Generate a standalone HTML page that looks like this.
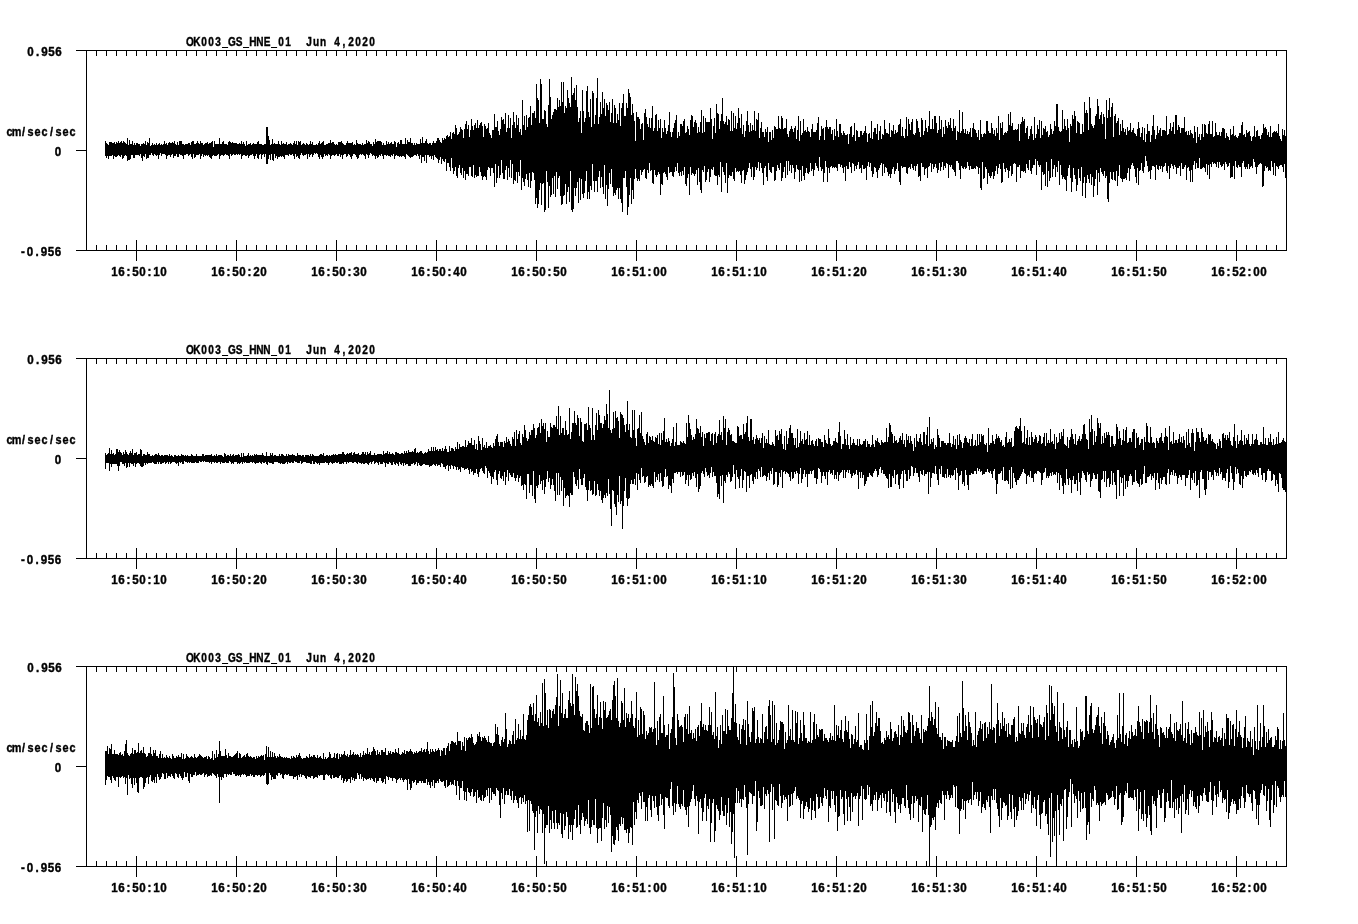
<!DOCTYPE html>
<html lang="en"><head><meta charset="utf-8"><title>OK003 GS HN seismogram</title>
<style>
html,body{margin:0;padding:0;background:#fff;}
body{width:1358px;height:924px;overflow:hidden;}
svg{display:block;}
text{font-family:"Liberation Mono","DejaVu Sans Mono",monospace;font-weight:bold;font-size:13.6px;fill:#000;stroke:#000;stroke-width:0.35px;}
text.s{font-family:"Liberation Sans","DejaVu Sans",sans-serif;font-size:12.6px;text-anchor:middle;stroke-width:0.4px;white-space:pre;}
</style></head><body>
<svg width="1358" height="924" viewBox="0 0 1358 924">
<rect width="1358" height="924" fill="#fff"/>
<g id="plot1">
<path shape-rendering="crispEdges" fill="#000" d="M76 50h1211v1h-1211zM76 250h1211v1h-1211zM86 50h1v201h-1zM1286 50h1v201h-1zM76 150h10v1h-10zM96 50h1v6h-1zM96 245h1v5h-1zM106 50h1v6h-1zM106 245h1v5h-1zM116 50h1v6h-1zM116 245h1v5h-1zM126 50h1v6h-1zM126 245h1v5h-1zM136 50h1v6h-1zM136 245h1v5h-1zM146 50h1v6h-1zM146 245h1v5h-1zM156 50h1v6h-1zM156 245h1v5h-1zM166 50h1v6h-1zM166 245h1v5h-1zM176 50h1v6h-1zM176 245h1v5h-1zM186 50h1v6h-1zM186 245h1v5h-1zM196 50h1v6h-1zM196 245h1v5h-1zM206 50h1v6h-1zM206 245h1v5h-1zM216 50h1v6h-1zM216 245h1v5h-1zM226 50h1v6h-1zM226 245h1v5h-1zM236 50h1v6h-1zM236 245h1v5h-1zM246 50h1v6h-1zM246 245h1v5h-1zM256 50h1v6h-1zM256 245h1v5h-1zM266 50h1v6h-1zM266 245h1v5h-1zM276 50h1v6h-1zM276 245h1v5h-1zM286 50h1v6h-1zM286 245h1v5h-1zM296 50h1v6h-1zM296 245h1v5h-1zM306 50h1v6h-1zM306 245h1v5h-1zM316 50h1v6h-1zM316 245h1v5h-1zM326 50h1v6h-1zM326 245h1v5h-1zM336 50h1v6h-1zM336 245h1v5h-1zM346 50h1v6h-1zM346 245h1v5h-1zM356 50h1v6h-1zM356 245h1v5h-1zM366 50h1v6h-1zM366 245h1v5h-1zM376 50h1v6h-1zM376 245h1v5h-1zM386 50h1v6h-1zM386 245h1v5h-1zM396 50h1v6h-1zM396 245h1v5h-1zM406 50h1v6h-1zM406 245h1v5h-1zM416 50h1v6h-1zM416 245h1v5h-1zM426 50h1v6h-1zM426 245h1v5h-1zM436 50h1v6h-1zM436 245h1v5h-1zM446 50h1v6h-1zM446 245h1v5h-1zM456 50h1v6h-1zM456 245h1v5h-1zM466 50h1v6h-1zM466 245h1v5h-1zM476 50h1v6h-1zM476 245h1v5h-1zM486 50h1v6h-1zM486 245h1v5h-1zM496 50h1v6h-1zM496 245h1v5h-1zM506 50h1v6h-1zM506 245h1v5h-1zM516 50h1v6h-1zM516 245h1v5h-1zM526 50h1v6h-1zM526 245h1v5h-1zM536 50h1v6h-1zM536 245h1v5h-1zM546 50h1v6h-1zM546 245h1v5h-1zM556 50h1v6h-1zM556 245h1v5h-1zM566 50h1v6h-1zM566 245h1v5h-1zM576 50h1v6h-1zM576 245h1v5h-1zM586 50h1v6h-1zM586 245h1v5h-1zM596 50h1v6h-1zM596 245h1v5h-1zM606 50h1v6h-1zM606 245h1v5h-1zM616 50h1v6h-1zM616 245h1v5h-1zM626 50h1v6h-1zM626 245h1v5h-1zM636 50h1v6h-1zM636 245h1v5h-1zM646 50h1v6h-1zM646 245h1v5h-1zM656 50h1v6h-1zM656 245h1v5h-1zM666 50h1v6h-1zM666 245h1v5h-1zM676 50h1v6h-1zM676 245h1v5h-1zM686 50h1v6h-1zM686 245h1v5h-1zM696 50h1v6h-1zM696 245h1v5h-1zM706 50h1v6h-1zM706 245h1v5h-1zM716 50h1v6h-1zM716 245h1v5h-1zM726 50h1v6h-1zM726 245h1v5h-1zM736 50h1v6h-1zM736 245h1v5h-1zM746 50h1v6h-1zM746 245h1v5h-1zM756 50h1v6h-1zM756 245h1v5h-1zM766 50h1v6h-1zM766 245h1v5h-1zM776 50h1v6h-1zM776 245h1v5h-1zM786 50h1v6h-1zM786 245h1v5h-1zM796 50h1v6h-1zM796 245h1v5h-1zM806 50h1v6h-1zM806 245h1v5h-1zM816 50h1v6h-1zM816 245h1v5h-1zM826 50h1v6h-1zM826 245h1v5h-1zM836 50h1v6h-1zM836 245h1v5h-1zM846 50h1v6h-1zM846 245h1v5h-1zM856 50h1v6h-1zM856 245h1v5h-1zM866 50h1v6h-1zM866 245h1v5h-1zM876 50h1v6h-1zM876 245h1v5h-1zM886 50h1v6h-1zM886 245h1v5h-1zM896 50h1v6h-1zM896 245h1v5h-1zM906 50h1v6h-1zM906 245h1v5h-1zM916 50h1v6h-1zM916 245h1v5h-1zM926 50h1v6h-1zM926 245h1v5h-1zM936 50h1v6h-1zM936 245h1v5h-1zM946 50h1v6h-1zM946 245h1v5h-1zM956 50h1v6h-1zM956 245h1v5h-1zM966 50h1v6h-1zM966 245h1v5h-1zM976 50h1v6h-1zM976 245h1v5h-1zM986 50h1v6h-1zM986 245h1v5h-1zM996 50h1v6h-1zM996 245h1v5h-1zM1006 50h1v6h-1zM1006 245h1v5h-1zM1016 50h1v6h-1zM1016 245h1v5h-1zM1026 50h1v6h-1zM1026 245h1v5h-1zM1036 50h1v6h-1zM1036 245h1v5h-1zM1046 50h1v6h-1zM1046 245h1v5h-1zM1056 50h1v6h-1zM1056 245h1v5h-1zM1066 50h1v6h-1zM1066 245h1v5h-1zM1076 50h1v6h-1zM1076 245h1v5h-1zM1086 50h1v6h-1zM1086 245h1v5h-1zM1096 50h1v6h-1zM1096 245h1v5h-1zM1106 50h1v6h-1zM1106 245h1v5h-1zM1116 50h1v6h-1zM1116 245h1v5h-1zM1126 50h1v6h-1zM1126 245h1v5h-1zM1136 50h1v6h-1zM1136 245h1v5h-1zM1146 50h1v6h-1zM1146 245h1v5h-1zM1156 50h1v6h-1zM1156 245h1v5h-1zM1166 50h1v6h-1zM1166 245h1v5h-1zM1176 50h1v6h-1zM1176 245h1v5h-1zM1186 50h1v6h-1zM1186 245h1v5h-1zM1196 50h1v6h-1zM1196 245h1v5h-1zM1206 50h1v6h-1zM1206 245h1v5h-1zM1216 50h1v6h-1zM1216 245h1v5h-1zM1226 50h1v6h-1zM1226 245h1v5h-1zM1236 50h1v6h-1zM1236 245h1v5h-1zM1246 50h1v6h-1zM1246 245h1v5h-1zM1256 50h1v6h-1zM1256 245h1v5h-1zM1266 50h1v6h-1zM1266 245h1v5h-1zM1276 50h1v6h-1zM1276 245h1v5h-1zM136 240h1v21h-1zM236 240h1v21h-1zM336 240h1v21h-1zM436 240h1v21h-1zM536 240h1v21h-1zM636 240h1v21h-1zM736 240h1v21h-1zM836 240h1v21h-1zM936 240h1v21h-1zM1036 240h1v21h-1zM1136 240h1v21h-1zM1236 240h1v21h-1z"/>
<path shape-rendering="crispEdges" fill="#000" d="M105 141v15h1v-15zM106 143v15h1v-15zM107 144v12h1v-12zM108 145v14h1v-14zM109 142v14h1v-14zM110 142v14h1v-14zM111 142v14h1v-14zM112 143v12h1v-12zM113 143v16h1v-16zM114 142v14h1v-14zM115 144v13h1v-13zM116 142v15h1v-15zM117 143v13h1v-13zM118 141v14h1v-14zM119 143v13h1v-13zM120 142v15h1v-15zM121 141v14h1v-14zM122 143v16h1v-16zM123 141v17h1v-17zM124 142v14h1v-14zM125 143v12h1v-12zM126 144v12h1v-12zM127 138v23h1v-23zM128 145v15h1v-15zM129 140v20h1v-20zM130 144v15h1v-15zM131 144v11h1v-11zM132 141v14h1v-14zM133 145v13h1v-13zM134 143v15h1v-15zM135 145v10h1v-10zM136 143v12h1v-12zM137 143v12h1v-12zM138 144v11h1v-11zM139 144v12h1v-12zM140 146v8h1v-8zM141 144v14h1v-14zM142 144v17h1v-17zM143 143v13h1v-13zM144 144v13h1v-13zM145 141v13h1v-13zM146 145v14h1v-14zM147 142v16h1v-16zM148 143v15h1v-15zM149 138v17h1v-17zM150 146v9h1v-9zM151 145v8h1v-8zM152 143v12h1v-12zM153 145v11h1v-11zM154 144v10h1v-10zM155 145v10h1v-10zM156 143v13h1v-13zM157 145v10h1v-10zM158 144v15h1v-15zM159 143v12h1v-12zM160 145v8h1v-8zM161 144v12h1v-12zM162 145v9h1v-9zM163 144v10h1v-10zM164 141v13h1v-13zM165 144v11h1v-11zM166 143v16h1v-16zM167 145v11h1v-11zM168 143v12h1v-12zM169 142v13h1v-13zM170 143v14h1v-14zM171 143v12h1v-12zM172 142v12h1v-12zM173 143v15h1v-15zM174 141v15h1v-15zM175 144v12h1v-12zM176 145v9h1v-9zM177 142v15h1v-15zM178 145v12h1v-12zM179 141v13h1v-13zM180 141v14h1v-14zM181 141v14h1v-14zM182 144v12h1v-12zM183 144v15h1v-15zM184 145v10h1v-10zM185 144v11h1v-11zM186 144v10h1v-10zM187 144v10h1v-10zM188 143v13h1v-13zM189 143v12h1v-12zM190 145v9h1v-9zM191 142v15h1v-15zM192 141v18h1v-18zM193 141v13h1v-13zM194 144v14h1v-14zM195 144v13h1v-13zM196 143v12h1v-12zM197 141v14h1v-14zM198 143v12h1v-12zM199 144v10h1v-10zM200 141v18h1v-18zM201 143v13h1v-13zM202 143v11h1v-11zM203 145v12h1v-12zM204 144v11h1v-11zM205 143v13h1v-13zM206 143v12h1v-12zM207 142v14h1v-14zM208 144v11h1v-11zM209 143v14h1v-14zM210 143v15h1v-15zM211 142v17h1v-17zM212 141v15h1v-15zM213 147v8h1v-8zM214 141v15h1v-15zM215 144v12h1v-12zM216 144v12h1v-12zM217 144v11h1v-11zM218 144v10h1v-10zM219 138v21h1v-21zM220 144v12h1v-12zM221 144v11h1v-11zM222 142v13h1v-13zM223 141v15h1v-15zM224 144v11h1v-11zM225 144v10h1v-10zM226 144v11h1v-11zM227 145v10h1v-10zM228 142v14h1v-14zM229 141v18h1v-18zM230 142v12h1v-12zM231 143v13h1v-13zM232 142v13h1v-13zM233 143v11h1v-11zM234 143v12h1v-12zM235 143v12h1v-12zM236 143v11h1v-11zM237 144v11h1v-11zM238 144v10h1v-10zM239 143v12h1v-12zM240 144v10h1v-10zM241 141v18h1v-18zM242 144v12h1v-12zM243 142v13h1v-13zM244 144v11h1v-11zM245 146v10h1v-10zM246 141v15h1v-15zM247 145v10h1v-10zM248 144v14h1v-14zM249 144v12h1v-12zM250 143v12h1v-12zM251 145v10h1v-10zM252 144v10h1v-10zM253 143v13h1v-13zM254 144v15h1v-15zM255 144v12h1v-12zM256 144v10h1v-10zM257 142v16h1v-16zM258 141v18h1v-18zM259 144v11h1v-11zM260 144v10h1v-10zM261 144v15h1v-15zM262 145v10h1v-10zM263 145v9h1v-9zM264 144v13h1v-13zM265 144v10h1v-10zM266 127v37h1v-37zM267 127v37h1v-37zM268 136v23h1v-23zM269 140v15h1v-15zM270 145v15h1v-15zM271 144v10h1v-10zM272 139v21h1v-21zM273 144v17h1v-17zM274 143v11h1v-11zM275 144v14h1v-14zM276 144v12h1v-12zM277 144v15h1v-15zM278 141v16h1v-16zM279 144v13h1v-13zM280 145v11h1v-11zM281 141v16h1v-16zM282 144v12h1v-12zM283 143v14h1v-14zM284 144v15h1v-15zM285 144v11h1v-11zM286 142v13h1v-13zM287 145v10h1v-10zM288 144v12h1v-12zM289 144v10h1v-10zM290 143v12h1v-12zM291 144v11h1v-11zM292 145v9h1v-9zM293 143v13h1v-13zM294 141v18h1v-18zM295 144v10h1v-10zM296 141v16h1v-16zM297 145v11h1v-11zM298 141v17h1v-17zM299 142v17h1v-17zM300 141v14h1v-14zM301 145v8h1v-8zM302 144v11h1v-11zM303 143v13h1v-13zM304 144v11h1v-11zM305 145v10h1v-10zM306 143v11h1v-11zM307 144v15h1v-15zM308 145v9h1v-9zM309 144v13h1v-13zM310 141v14h1v-14zM311 144v10h1v-10zM312 142v15h1v-15zM313 145v10h1v-10zM314 145v8h1v-8zM315 145v9h1v-9zM316 144v9h1v-9zM317 145v9h1v-9zM318 143v14h1v-14zM319 141v18h1v-18zM320 144v11h1v-11zM321 143v14h1v-14zM322 142v17h1v-17zM323 141v16h1v-16zM324 145v9h1v-9zM325 145v11h1v-11zM326 144v11h1v-11zM327 144v12h1v-12zM328 143v11h1v-11zM329 143v12h1v-12zM330 140v19h1v-19zM331 143v13h1v-13zM332 142v13h1v-13zM333 142v13h1v-13zM334 144v12h1v-12zM335 145v10h1v-10zM336 144v10h1v-10zM337 145v11h1v-11zM338 142v14h1v-14zM339 142v12h1v-12zM340 142v15h1v-15zM341 141v14h1v-14zM342 143v16h1v-16zM343 144v11h1v-11zM344 145v9h1v-9zM345 145v9h1v-9zM346 143v14h1v-14zM347 141v15h1v-15zM348 143v11h1v-11zM349 143v12h1v-12zM350 143v14h1v-14zM351 143v16h1v-16zM352 142v14h1v-14zM353 145v9h1v-9zM354 144v10h1v-10zM355 145v10h1v-10zM356 140v17h1v-17zM357 143v16h1v-16zM358 144v14h1v-14zM359 144v11h1v-11zM360 144v10h1v-10zM361 145v10h1v-10zM362 143v11h1v-11zM363 145v10h1v-10zM364 144v12h1v-12zM365 144v15h1v-15zM366 140v14h1v-14zM367 143v12h1v-12zM368 141v17h1v-17zM369 142v13h1v-13zM370 144v9h1v-9zM371 144v10h1v-10zM372 146v10h1v-10zM373 142v13h1v-13zM374 144v12h1v-12zM375 139v20h1v-20zM376 142v14h1v-14zM377 141v17h1v-17zM378 141v16h1v-16zM379 141v14h1v-14zM380 141v15h1v-15zM381 142v12h1v-12zM382 145v11h1v-11zM383 143v16h1v-16zM384 145v10h1v-10zM385 145v10h1v-10zM386 141v15h1v-15zM387 144v11h1v-11zM388 142v14h1v-14zM389 144v12h1v-12zM390 143v14h1v-14zM391 142v13h1v-13zM392 144v12h1v-12zM393 144v10h1v-10zM394 141v18h1v-18zM395 142v14h1v-14zM396 147v8h1v-8zM397 143v13h1v-13zM398 142v14h1v-14zM399 144v13h1v-13zM400 140v16h1v-16zM401 140v17h1v-17zM402 144v12h1v-12zM403 144v12h1v-12zM404 144v13h1v-13zM405 138v21h1v-21zM406 144v10h1v-10zM407 140v15h1v-15zM408 142v14h1v-14zM409 142v15h1v-15zM410 138v20h1v-20zM411 143v14h1v-14zM412 143v14h1v-14zM413 145v11h1v-11zM414 143v12h1v-12zM415 145v10h1v-10zM416 143v13h1v-13zM417 144v10h1v-10zM418 144v12h1v-12zM419 144v15h1v-15zM420 139v16h1v-16zM421 143v20h1v-20zM422 137v20h1v-20zM423 143v14h1v-14zM424 143v18h1v-18zM425 141v14h1v-14zM426 139v24h1v-24zM427 143v12h1v-12zM428 144v11h1v-11zM429 143v14h1v-14zM430 143v13h1v-13zM431 145v14h1v-14zM432 143v13h1v-13zM433 141v19h1v-19zM434 143v12h1v-12zM435 143v14h1v-14zM436 141v17h1v-17zM437 138v21h1v-21zM438 138v25h1v-25zM439 140v20h1v-20zM440 142v15h1v-15zM441 143v21h1v-21zM442 138v21h1v-21zM443 140v21h1v-21zM444 138v24h1v-24zM445 139v20h1v-20zM446 136v35h1v-35zM447 135v28h1v-28zM448 137v26h1v-26zM449 136v31h1v-31zM450 132v39h1v-39zM451 139v19h1v-19zM452 133v35h1v-35zM453 132v42h1v-42zM454 134v37h1v-37zM455 125v42h1v-42zM456 128v48h1v-48zM457 135v43h1v-43zM458 134v34h1v-34zM459 132v33h1v-33zM460 127v46h1v-46zM461 129v46h1v-46zM462 130v38h1v-38zM463 138v40h1v-40zM464 129v42h1v-42zM465 124v56h1v-56zM466 121v53h1v-53zM467 129v45h1v-45zM468 125v51h1v-51zM469 137v30h1v-30zM470 130v37h1v-37zM471 119v57h1v-57zM472 126v51h1v-51zM473 130v35h1v-35zM474 125v53h1v-53zM475 123v52h1v-52zM476 128v49h1v-49zM477 120v56h1v-56zM478 128v48h1v-48zM479 125v42h1v-42zM480 123v49h1v-49zM481 122v54h1v-54zM482 126v54h1v-54zM483 137v40h1v-40zM484 124v52h1v-52zM485 126v51h1v-51zM486 129v51h1v-51zM487 128v42h1v-42zM488 123v44h1v-44zM489 133v35h1v-35zM490 135v41h1v-41zM491 138v30h1v-30zM492 130v38h1v-38zM493 130v43h1v-43zM494 114v73h1v-73zM495 127v37h1v-37zM496 127v56h1v-56zM497 121v57h1v-57zM498 131v35h1v-35zM499 135v43h1v-43zM500 129v46h1v-46zM501 117v43h1v-43zM502 120v53h1v-53zM503 119v60h1v-60zM504 124v55h1v-55zM505 113v57h1v-57zM506 132v34h1v-34zM507 128v52h1v-52zM508 115v53h1v-53zM509 128v49h1v-49zM510 118v42h1v-42zM511 138v40h1v-40zM512 125v39h1v-39zM513 112v72h1v-72zM514 122v58h1v-58zM515 128v53h1v-53zM516 115v57h1v-57zM517 125v58h1v-58zM518 118v54h1v-54zM519 132v44h1v-44zM520 129v31h1v-31zM521 135v55h1v-55zM522 100v78h1v-78zM523 125v57h1v-57zM524 116v70h1v-70zM525 130v49h1v-49zM526 115v59h1v-59zM527 127v53h1v-53zM528 118v69h1v-69zM529 117v56h1v-56zM530 106v82h1v-82zM531 125v56h1v-56zM532 113v59h1v-59zM533 113v60h1v-60zM534 111v69h1v-69zM535 118v86h1v-86zM536 84v114h1v-114zM537 98v110h1v-110zM538 100v104h1v-104zM539 123v67h1v-67zM540 79v104h1v-104zM541 84v121h1v-121zM542 119v65h1v-65zM543 119v64h1v-64zM544 110v102h1v-102zM545 111v99h1v-99zM546 124v47h1v-47zM547 127v55h1v-55zM548 105v103h1v-103zM549 79v107h1v-107zM550 97v100h1v-100zM551 119v76h1v-76zM552 115v63h1v-63zM553 112v82h1v-82zM554 109v67h1v-67zM555 109v88h1v-88zM556 110v62h1v-62zM557 98v91h1v-91zM558 107v71h1v-71zM559 100v76h1v-76zM560 106v90h1v-90zM561 82v123h1v-123zM562 102v102h1v-102zM563 82v114h1v-114zM564 113v82h1v-82zM565 106v78h1v-78zM566 108v96h1v-96zM567 90v102h1v-102zM568 98v89h1v-89zM569 103v99h1v-99zM570 107v64h1v-64zM571 77v133h1v-133zM572 95v117h1v-117zM573 93v116h1v-116zM574 88v100h1v-100zM575 100v96h1v-96zM576 85v103h1v-103zM577 107v75h1v-75zM578 122v81h1v-81zM579 118v60h1v-60zM580 111v89h1v-89zM581 133v46h1v-46zM582 90v104h1v-104zM583 111v87h1v-87zM584 122v71h1v-71zM585 118v63h1v-63zM586 91v80h1v-80zM587 86v113h1v-113zM588 112v80h1v-80zM589 117v82h1v-82zM590 99v87h1v-87zM591 127v63h1v-63zM592 91v73h1v-73zM593 93v88h1v-88zM594 124v68h1v-68zM595 115v66h1v-66zM596 98v83h1v-83zM597 78v114h1v-114zM598 124v53h1v-53zM599 117v54h1v-54zM600 102v86h1v-86zM601 114v63h1v-63zM602 92v95h1v-95zM603 108v86h1v-86zM604 99v66h1v-66zM605 116v83h1v-83zM606 103v82h1v-82zM607 105v101h1v-101zM608 110v79h1v-79zM609 102v71h1v-71zM610 122v62h1v-62zM611 113v56h1v-56zM612 99v88h1v-88zM613 123v73h1v-73zM614 105v88h1v-88zM615 108v87h1v-87zM616 123v67h1v-67zM617 114v74h1v-74zM618 120v79h1v-79zM619 103v85h1v-85zM620 126v73h1v-73zM621 108v95h1v-95zM622 103v109h1v-109zM623 94v84h1v-84zM624 116v62h1v-62zM625 116v55h1v-55zM626 103v84h1v-84zM627 108v107h1v-107zM628 89v118h1v-118zM629 93v102h1v-102zM630 97v81h1v-81zM631 115v89h1v-89zM632 104v86h1v-86zM633 113v86h1v-86zM634 121v58h1v-58zM635 141v28h1v-28zM636 112v66h1v-66zM637 117v64h1v-64zM638 117v62h1v-62zM639 119v62h1v-62zM640 129v41h1v-41zM641 124v51h1v-51zM642 123v49h1v-49zM643 140v30h1v-30zM644 113v56h1v-56zM645 109v69h1v-69zM646 117v62h1v-62zM647 124v46h1v-46zM648 127v46h1v-46zM649 118v45h1v-45zM650 128v43h1v-43zM651 118v52h1v-52zM652 106v77h1v-77zM653 131v53h1v-53zM654 128v42h1v-42zM655 115v60h1v-60zM656 114v63h1v-63zM657 131v44h1v-44zM658 120v52h1v-52zM659 128v46h1v-46zM660 119v76h1v-76zM661 138v46h1v-46zM662 128v57h1v-57zM663 132v41h1v-41zM664 120v52h1v-52zM665 128v46h1v-46zM666 134v43h1v-43zM667 131v49h1v-49zM668 125v42h1v-42zM669 112v61h1v-61zM670 132v40h1v-40zM671 137v35h1v-35zM672 132v44h1v-44zM673 128v49h1v-49zM674 123v49h1v-49zM675 120v47h1v-47zM676 115v56h1v-56zM677 138v25h1v-25zM678 132v41h1v-41zM679 136v40h1v-40zM680 124v48h1v-48zM681 124v52h1v-52zM682 126v45h1v-45zM683 121v54h1v-54zM684 119v48h1v-48zM685 133v51h1v-51zM686 132v54h1v-54zM687 126v52h1v-52zM688 129v45h1v-45zM689 135v60h1v-60zM690 120v47h1v-47zM691 115v60h1v-60zM692 116v57h1v-57zM693 127v47h1v-47zM694 122v54h1v-54zM695 120v54h1v-54zM696 123v47h1v-47zM697 133v52h1v-52zM698 127v41h1v-41zM699 132v50h1v-50zM700 122v68h1v-68zM701 110v83h1v-83zM702 133v37h1v-37zM703 116v56h1v-56zM704 132v34h1v-34zM705 118v64h1v-64zM706 122v58h1v-58zM707 122v50h1v-50zM708 122v47h1v-47zM709 122v60h1v-60zM710 108v69h1v-69zM711 119v50h1v-50zM712 139v31h1v-31zM713 126v41h1v-41zM714 118v57h1v-57zM715 133v43h1v-43zM716 104v72h1v-72zM717 113v72h1v-72zM718 114v61h1v-61zM719 129v48h1v-48zM720 121v41h1v-41zM721 114v78h1v-78zM722 98v69h1v-69zM723 121v51h1v-51zM724 124v51h1v-51zM725 122v61h1v-61zM726 116v47h1v-47zM727 125v68h1v-68zM728 119v59h1v-59zM729 120v55h1v-55zM730 131v45h1v-45zM731 111v65h1v-65zM732 131v41h1v-41zM733 113v66h1v-66zM734 128v53h1v-53zM735 116v52h1v-52zM736 129v43h1v-43zM737 123v48h1v-48zM738 108v64h1v-64zM739 118v53h1v-53zM740 128v47h1v-47zM741 114v69h1v-69zM742 134v37h1v-37zM743 125v45h1v-45zM744 137v47h1v-47zM745 131v49h1v-49zM746 121v54h1v-54zM747 111v61h1v-61zM748 125v43h1v-43zM749 132v31h1v-31zM750 123v46h1v-46zM751 131v46h1v-46zM752 125v42h1v-42zM753 130v50h1v-50zM754 111v66h1v-66zM755 131v36h1v-36zM756 119v51h1v-51zM757 120v48h1v-48zM758 113v49h1v-49zM759 138v33h1v-33zM760 128v35h1v-35zM761 122v46h1v-46zM762 132v41h1v-41zM763 132v53h1v-53zM764 137v31h1v-31zM765 129v37h1v-37zM766 132v45h1v-45zM767 127v54h1v-54zM768 142v21h1v-21zM769 132v38h1v-38zM770 132v40h1v-40zM771 140v33h1v-33zM772 130v37h1v-37zM773 138v29h1v-29zM774 126v55h1v-55zM775 127v53h1v-53zM776 129v42h1v-42zM777 129v36h1v-36zM778 116v52h1v-52zM779 128v42h1v-42zM780 129v34h1v-34zM781 116v65h1v-65zM782 118v60h1v-60zM783 129v43h1v-43zM784 128v39h1v-39zM785 128v50h1v-50zM786 119v42h1v-42zM787 134v41h1v-41zM788 137v24h1v-24zM789 131v40h1v-40zM790 129v36h1v-36zM791 126v47h1v-47zM792 129v36h1v-36zM793 132v36h1v-36zM794 128v51h1v-51zM795 126v46h1v-46zM796 139v26h1v-26zM797 130v39h1v-39zM798 116v54h1v-54zM799 141v41h1v-41zM800 121v49h1v-49zM801 135v46h1v-46zM802 133v33h1v-33zM803 119v57h1v-57zM804 131v49h1v-49zM805 130v43h1v-43zM806 132v36h1v-36zM807 127v46h1v-46zM808 131v43h1v-43zM809 132v40h1v-40zM810 137v26h1v-26zM811 129v42h1v-42zM812 124v45h1v-45zM813 132v44h1v-44zM814 132v38h1v-38zM815 132v31h1v-31zM816 130v36h1v-36zM817 123v45h1v-45zM818 117v54h1v-54zM819 140v17h1v-17zM820 136v31h1v-31zM821 126v45h1v-45zM822 129v40h1v-40zM823 128v54h1v-54zM824 140v33h1v-33zM825 127v34h1v-34zM826 120v47h1v-47zM827 127v55h1v-55zM828 129v39h1v-39zM829 127v46h1v-46zM830 127v40h1v-40zM831 134v32h1v-32zM832 130v38h1v-38zM833 140v27h1v-27zM834 129v39h1v-39zM835 136v31h1v-31zM836 119v49h1v-49zM837 131v40h1v-40zM838 137v27h1v-27zM839 124v40h1v-40zM840 124v43h1v-43zM841 133v32h1v-32zM842 135v33h1v-33zM843 131v42h1v-42zM844 133v34h1v-34zM845 135v46h1v-46zM846 135v31h1v-31zM847 134v35h1v-35zM848 144v25h1v-25zM849 134v28h1v-28zM850 127v40h1v-40zM851 126v47h1v-47zM852 137v26h1v-26zM853 135v29h1v-29zM854 123v48h1v-48zM855 141v25h1v-25zM856 130v39h1v-39zM857 131v34h1v-34zM858 137v25h1v-25zM859 137v32h1v-32zM860 131v37h1v-37zM861 131v42h1v-42zM862 135v30h1v-30zM863 133v36h1v-36zM864 131v38h1v-38zM865 126v42h1v-42zM866 133v47h1v-47zM867 142v24h1v-24zM868 134v28h1v-28zM869 133v34h1v-34zM870 138v25h1v-25zM871 121v50h1v-50zM872 139v38h1v-38zM873 132v42h1v-42zM874 128v39h1v-39zM875 128v40h1v-40zM876 134v38h1v-38zM877 124v54h1v-54zM878 140v30h1v-30zM879 131v37h1v-37zM880 126v39h1v-39zM881 139v24h1v-24zM882 134v42h1v-42zM883 135v29h1v-29zM884 120v53h1v-53zM885 129v38h1v-38zM886 133v35h1v-35zM887 133v39h1v-39zM888 134v42h1v-42zM889 123v51h1v-51zM890 137v41h1v-41zM891 130v44h1v-44zM892 131v38h1v-38zM893 125v42h1v-42zM894 134v40h1v-40zM895 130v41h1v-41zM896 133v36h1v-36zM897 132v31h1v-31zM898 125v46h1v-46zM899 124v58h1v-58zM900 119v66h1v-66zM901 136v30h1v-30zM902 127v41h1v-41zM903 136v31h1v-31zM904 138v29h1v-29zM905 129v38h1v-38zM906 117v56h1v-56zM907 136v38h1v-38zM908 119v49h1v-49zM909 124v43h1v-43zM910 130v39h1v-39zM911 122v42h1v-42zM912 119v49h1v-49zM913 134v36h1v-36zM914 135v31h1v-31zM915 133v38h1v-38zM916 119v47h1v-47zM917 121v43h1v-43zM918 128v49h1v-49zM919 132v44h1v-44zM920 137v44h1v-44zM921 118v45h1v-45zM922 120v47h1v-47zM923 135v32h1v-32zM924 131v44h1v-44zM925 120v49h1v-49zM926 128v40h1v-40zM927 132v46h1v-46zM928 126v41h1v-41zM929 111v55h1v-55zM930 129v34h1v-34zM931 129v43h1v-43zM932 119v45h1v-45zM933 129v40h1v-40zM934 116v51h1v-51zM935 116v48h1v-48zM936 123v45h1v-45zM937 133v40h1v-40zM938 130v40h1v-40zM939 116v47h1v-47zM940 129v42h1v-42zM941 120v47h1v-47zM942 137v25h1v-25zM943 127v43h1v-43zM944 134v32h1v-32zM945 120v48h1v-48zM946 126v37h1v-37zM947 128v36h1v-36zM948 122v56h1v-56zM949 125v40h1v-40zM950 118v49h1v-49zM951 128v37h1v-37zM952 131v38h1v-38zM953 119v51h1v-51zM954 128v44h1v-44zM955 126v50h1v-50zM956 140v21h1v-21zM957 131v30h1v-30zM958 132v31h1v-31zM959 110v60h1v-60zM960 133v46h1v-46zM961 131v35h1v-35zM962 112v56h1v-56zM963 129v40h1v-40zM964 133v34h1v-34zM965 129v40h1v-40zM966 134v34h1v-34zM967 131v31h1v-31zM968 134v32h1v-32zM969 132v38h1v-38zM970 128v38h1v-38zM971 137v32h1v-32zM972 128v41h1v-41zM973 123v46h1v-46zM974 129v39h1v-39zM975 130v39h1v-39zM976 133v33h1v-33zM977 137v30h1v-30zM978 130v44h1v-44zM979 140v28h1v-28zM980 120v68h1v-68zM981 134v56h1v-56zM982 137v25h1v-25zM983 134v45h1v-45zM984 133v45h1v-45zM985 134v33h1v-33zM986 121v48h1v-48zM987 121v63h1v-63zM988 131v42h1v-42zM989 133v43h1v-43zM990 133v45h1v-45zM991 123v53h1v-53zM992 128v44h1v-44zM993 134v45h1v-45zM994 130v46h1v-46zM995 136v35h1v-35zM996 128v38h1v-38zM997 133v41h1v-41zM998 116v52h1v-52zM999 140v24h1v-24zM1000 123v46h1v-46zM1001 128v55h1v-55zM1002 122v60h1v-60zM1003 135v28h1v-28zM1004 133v36h1v-36zM1005 132v40h1v-40zM1006 133v35h1v-35zM1007 131v39h1v-39zM1008 114v64h1v-64zM1009 125v46h1v-46zM1010 112v54h1v-54zM1011 126v50h1v-50zM1012 123v51h1v-51zM1013 130v34h1v-34zM1014 130v33h1v-33zM1015 129v35h1v-35zM1016 130v52h1v-52zM1017 129v38h1v-38zM1018 124v43h1v-43zM1019 141v24h1v-24zM1020 124v54h1v-54zM1021 122v49h1v-49zM1022 117v54h1v-54zM1023 121v51h1v-51zM1024 119v52h1v-52zM1025 133v40h1v-40zM1026 128v36h1v-36zM1027 126v42h1v-42zM1028 139v31h1v-31zM1029 136v24h1v-24zM1030 129v42h1v-42zM1031 126v48h1v-48zM1032 134v34h1v-34zM1033 140v25h1v-25zM1034 117v48h1v-48zM1035 138v21h1v-21zM1036 134v41h1v-41zM1037 125v36h1v-36zM1038 129v36h1v-36zM1039 120v47h1v-47zM1040 138v27h1v-27zM1041 121v69h1v-69zM1042 135v37h1v-37zM1043 128v47h1v-47zM1044 129v45h1v-45zM1045 126v60h1v-60zM1046 132v30h1v-30zM1047 131v56h1v-56zM1048 137v34h1v-34zM1049 135v46h1v-46zM1050 124v54h1v-54zM1051 129v30h1v-30zM1052 134v43h1v-43zM1053 131v38h1v-38zM1054 121v44h1v-44zM1055 126v51h1v-51zM1056 104v63h1v-63zM1057 104v68h1v-68zM1058 127v34h1v-34zM1059 131v54h1v-54zM1060 132v33h1v-33zM1061 131v44h1v-44zM1062 110v69h1v-69zM1063 129v48h1v-48zM1064 119v60h1v-60zM1065 126v54h1v-54zM1066 130v61h1v-61zM1067 119v57h1v-57zM1068 128v40h1v-40zM1069 142v23h1v-23zM1070 124v54h1v-54zM1071 126v66h1v-66zM1072 115v67h1v-67zM1073 119v49h1v-49zM1074 111v64h1v-64zM1075 116v63h1v-63zM1076 133v58h1v-58zM1077 121v64h1v-64zM1078 122v47h1v-47zM1079 123v55h1v-55zM1080 134v47h1v-47zM1081 134v33h1v-33zM1082 124v72h1v-72zM1083 132v51h1v-51zM1084 102v75h1v-75zM1085 113v85h1v-85zM1086 110v73h1v-73zM1087 113v62h1v-62zM1088 130v49h1v-49zM1089 97v86h1v-86zM1090 108v66h1v-66zM1091 124v61h1v-61zM1092 126v51h1v-51zM1093 128v69h1v-69zM1094 125v61h1v-61zM1095 116v63h1v-63zM1096 114v56h1v-56zM1097 99v96h1v-96zM1098 106v67h1v-67zM1099 119v63h1v-63zM1100 115v53h1v-53zM1101 112v60h1v-60zM1102 124v50h1v-50zM1103 114v62h1v-62zM1104 117v54h1v-54zM1105 139v39h1v-39zM1106 100v76h1v-76zM1107 118v81h1v-81zM1108 110v92h1v-92zM1109 98v85h1v-85zM1110 117v55h1v-55zM1111 107v72h1v-72zM1112 103v77h1v-77zM1113 137v35h1v-35zM1114 116v64h1v-64zM1115 114v67h1v-67zM1116 123v48h1v-48zM1117 121v65h1v-65zM1118 118v58h1v-58zM1119 135v30h1v-30zM1120 124v54h1v-54zM1121 131v48h1v-48zM1122 120v62h1v-62zM1123 128v51h1v-51zM1124 132v47h1v-47zM1125 129v49h1v-49zM1126 135v45h1v-45zM1127 127v46h1v-46zM1128 131v37h1v-37zM1129 130v51h1v-51zM1130 123v46h1v-46zM1131 132v33h1v-33zM1132 130v33h1v-33zM1133 128v38h1v-38zM1134 133v36h1v-36zM1135 134v43h1v-43zM1136 136v47h1v-47zM1137 129v39h1v-39zM1138 122v63h1v-63zM1139 128v43h1v-43zM1140 137v33h1v-33zM1141 133v30h1v-30zM1142 127v44h1v-44zM1143 140v33h1v-33zM1144 128v39h1v-39zM1145 142v14h1v-14zM1146 134v27h1v-27zM1147 124v42h1v-42zM1148 131v41h1v-41zM1149 131v40h1v-40zM1150 142v37h1v-37zM1151 135v35h1v-35zM1152 126v40h1v-40zM1153 115v51h1v-51zM1154 130v37h1v-37zM1155 139v41h1v-41zM1156 135v30h1v-30zM1157 126v43h1v-43zM1158 133v37h1v-37zM1159 130v36h1v-36zM1160 128v41h1v-41zM1161 136v30h1v-30zM1162 130v42h1v-42zM1163 130v37h1v-37zM1164 130v36h1v-36zM1165 131v32h1v-32zM1166 116v55h1v-55zM1167 135v38h1v-38zM1168 134v32h1v-32zM1169 129v50h1v-50zM1170 123v45h1v-45zM1171 131v33h1v-33zM1172 127v39h1v-39zM1173 122v47h1v-47zM1174 134v31h1v-31zM1175 115v52h1v-52zM1176 115v59h1v-59zM1177 130v38h1v-38zM1178 125v43h1v-43zM1179 127v39h1v-39zM1180 133v43h1v-43zM1181 128v35h1v-35zM1182 128v41h1v-41zM1183 128v41h1v-41zM1184 117v50h1v-50zM1185 132v33h1v-33zM1186 131v49h1v-49zM1187 135v33h1v-33zM1188 131v36h1v-36zM1189 135v36h1v-36zM1190 130v52h1v-52zM1191 133v37h1v-37zM1192 134v48h1v-48zM1193 138v27h1v-27zM1194 126v35h1v-35zM1195 132v37h1v-37zM1196 143v20h1v-20zM1197 127v41h1v-41zM1198 137v31h1v-31zM1199 134v24h1v-24zM1200 140v29h1v-29zM1201 134v35h1v-35zM1202 124v44h1v-44zM1203 137v30h1v-30zM1204 124v44h1v-44zM1205 125v47h1v-47zM1206 133v31h1v-31zM1207 134v41h1v-41zM1208 124v41h1v-41zM1209 121v58h1v-58zM1210 134v30h1v-30zM1211 134v33h1v-33zM1212 121v41h1v-41zM1213 137v27h1v-27zM1214 136v27h1v-27zM1215 123v41h1v-41zM1216 132v35h1v-35zM1217 135v27h1v-27zM1218 135v33h1v-33zM1219 132v30h1v-30zM1220 136v29h1v-29zM1221 132v35h1v-35zM1222 128v38h1v-38zM1223 128v36h1v-36zM1224 129v41h1v-41zM1225 138v24h1v-24zM1226 133v31h1v-31zM1227 136v31h1v-31zM1228 137v29h1v-29zM1229 140v23h1v-23zM1230 129v49h1v-49zM1231 135v42h1v-42zM1232 134v43h1v-43zM1233 126v40h1v-40zM1234 136v43h1v-43zM1235 135v26h1v-26zM1236 137v30h1v-30zM1237 138v30h1v-30zM1238 136v29h1v-29zM1239 133v34h1v-34zM1240 133v34h1v-34zM1241 125v52h1v-52zM1242 122v41h1v-41zM1243 135v26h1v-26zM1244 134v33h1v-33zM1245 137v32h1v-32zM1246 130v37h1v-37zM1247 133v36h1v-36zM1248 132v32h1v-32zM1249 131v38h1v-38zM1250 136v31h1v-31zM1251 141v25h1v-25zM1252 137v31h1v-31zM1253 136v23h1v-23zM1254 126v36h1v-36zM1255 137v30h1v-30zM1256 131v43h1v-43zM1257 130v37h1v-37zM1258 136v29h1v-29zM1259 136v28h1v-28zM1260 139v24h1v-24zM1261 135v29h1v-29zM1262 133v54h1v-54zM1263 124v62h1v-62zM1264 128v43h1v-43zM1265 127v39h1v-39zM1266 129v39h1v-39zM1267 135v32h1v-32zM1268 132v39h1v-39zM1269 137v33h1v-33zM1270 126v45h1v-45zM1271 137v24h1v-24zM1272 133v34h1v-34zM1273 132v43h1v-43zM1274 131v32h1v-32zM1275 132v44h1v-44zM1276 131v35h1v-35zM1277 133v34h1v-34zM1278 124v45h1v-45zM1279 136v30h1v-30zM1280 139v26h1v-26zM1281 141v24h1v-24zM1282 129v38h1v-38zM1283 135v37h1v-37zM1284 130v34h1v-34zM1285 136v42h1v-42z"/>
<text class="s" transform="scale(0.8 1)" x="237.50 246.25 255.00 263.75 272.50 281.25 290.00 298.75 307.50 316.25 325.00 333.75 342.50 351.25 360.00 368.75 377.50 386.25 395.00 403.75 412.50 421.25 430.00 438.75 447.50 456.25 465.00" y="46" xml:space="preserve">OK003_GS_HNE_01  Jun 4,2020</text>
<text class="s" transform="scale(0.92 1)" x="33.15 40.76 48.37 55.98 63.59" y="56" xml:space="preserve">0.956</text>
<text class="s" transform="scale(0.86 1)" x="11.05 19.19 27.33 35.47 43.60 51.74 59.88 68.02 76.16 84.30" y="136" xml:space="preserve">cm/sec/sec</text>
<text class="s" transform="scale(0.92 1)" x="63.04" y="156" xml:space="preserve">0</text>
<text class="s" transform="scale(0.92 1)" x="25.00 32.61 40.22 47.83 55.43 63.04" y="256" xml:space="preserve">-0.956</text>
<text class="s" transform="scale(0.92 1)" x="124.46 132.07 139.67 147.28 154.89 162.50 170.11 177.72" y="276" xml:space="preserve">16:50:10</text>
<text class="s" transform="scale(0.92 1)" x="233.15 240.76 248.37 255.98 263.59 271.20 278.80 286.41" y="276" xml:space="preserve">16:50:20</text>
<text class="s" transform="scale(0.92 1)" x="341.85 349.46 357.07 364.67 372.28 379.89 387.50 395.11" y="276" xml:space="preserve">16:50:30</text>
<text class="s" transform="scale(0.92 1)" x="450.54 458.15 465.76 473.37 480.98 488.59 496.20 503.80" y="276" xml:space="preserve">16:50:40</text>
<text class="s" transform="scale(0.92 1)" x="559.24 566.85 574.46 582.07 589.67 597.28 604.89 612.50" y="276" xml:space="preserve">16:50:50</text>
<text class="s" transform="scale(0.92 1)" x="667.93 675.54 683.15 690.76 698.37 705.98 713.59 721.20" y="276" xml:space="preserve">16:51:00</text>
<text class="s" transform="scale(0.92 1)" x="776.63 784.24 791.85 799.46 807.07 814.67 822.28 829.89" y="276" xml:space="preserve">16:51:10</text>
<text class="s" transform="scale(0.92 1)" x="885.33 892.93 900.54 908.15 915.76 923.37 930.98 938.59" y="276" xml:space="preserve">16:51:20</text>
<text class="s" transform="scale(0.92 1)" x="994.02 1001.63 1009.24 1016.85 1024.46 1032.07 1039.67 1047.28" y="276" xml:space="preserve">16:51:30</text>
<text class="s" transform="scale(0.92 1)" x="1102.72 1110.33 1117.93 1125.54 1133.15 1140.76 1148.37 1155.98" y="276" xml:space="preserve">16:51:40</text>
<text class="s" transform="scale(0.92 1)" x="1211.41 1219.02 1226.63 1234.24 1241.85 1249.46 1257.07 1264.67" y="276" xml:space="preserve">16:51:50</text>
<text class="s" transform="scale(0.92 1)" x="1320.11 1327.72 1335.33 1342.93 1350.54 1358.15 1365.76 1373.37" y="276" xml:space="preserve">16:52:00</text>
</g>
<g id="plot2">
<path shape-rendering="crispEdges" fill="#000" d="M76 358h1211v1h-1211zM76 558h1211v1h-1211zM86 358h1v201h-1zM1286 358h1v201h-1zM76 458h10v1h-10zM96 358h1v6h-1zM96 553h1v5h-1zM106 358h1v6h-1zM106 553h1v5h-1zM116 358h1v6h-1zM116 553h1v5h-1zM126 358h1v6h-1zM126 553h1v5h-1zM136 358h1v6h-1zM136 553h1v5h-1zM146 358h1v6h-1zM146 553h1v5h-1zM156 358h1v6h-1zM156 553h1v5h-1zM166 358h1v6h-1zM166 553h1v5h-1zM176 358h1v6h-1zM176 553h1v5h-1zM186 358h1v6h-1zM186 553h1v5h-1zM196 358h1v6h-1zM196 553h1v5h-1zM206 358h1v6h-1zM206 553h1v5h-1zM216 358h1v6h-1zM216 553h1v5h-1zM226 358h1v6h-1zM226 553h1v5h-1zM236 358h1v6h-1zM236 553h1v5h-1zM246 358h1v6h-1zM246 553h1v5h-1zM256 358h1v6h-1zM256 553h1v5h-1zM266 358h1v6h-1zM266 553h1v5h-1zM276 358h1v6h-1zM276 553h1v5h-1zM286 358h1v6h-1zM286 553h1v5h-1zM296 358h1v6h-1zM296 553h1v5h-1zM306 358h1v6h-1zM306 553h1v5h-1zM316 358h1v6h-1zM316 553h1v5h-1zM326 358h1v6h-1zM326 553h1v5h-1zM336 358h1v6h-1zM336 553h1v5h-1zM346 358h1v6h-1zM346 553h1v5h-1zM356 358h1v6h-1zM356 553h1v5h-1zM366 358h1v6h-1zM366 553h1v5h-1zM376 358h1v6h-1zM376 553h1v5h-1zM386 358h1v6h-1zM386 553h1v5h-1zM396 358h1v6h-1zM396 553h1v5h-1zM406 358h1v6h-1zM406 553h1v5h-1zM416 358h1v6h-1zM416 553h1v5h-1zM426 358h1v6h-1zM426 553h1v5h-1zM436 358h1v6h-1zM436 553h1v5h-1zM446 358h1v6h-1zM446 553h1v5h-1zM456 358h1v6h-1zM456 553h1v5h-1zM466 358h1v6h-1zM466 553h1v5h-1zM476 358h1v6h-1zM476 553h1v5h-1zM486 358h1v6h-1zM486 553h1v5h-1zM496 358h1v6h-1zM496 553h1v5h-1zM506 358h1v6h-1zM506 553h1v5h-1zM516 358h1v6h-1zM516 553h1v5h-1zM526 358h1v6h-1zM526 553h1v5h-1zM536 358h1v6h-1zM536 553h1v5h-1zM546 358h1v6h-1zM546 553h1v5h-1zM556 358h1v6h-1zM556 553h1v5h-1zM566 358h1v6h-1zM566 553h1v5h-1zM576 358h1v6h-1zM576 553h1v5h-1zM586 358h1v6h-1zM586 553h1v5h-1zM596 358h1v6h-1zM596 553h1v5h-1zM606 358h1v6h-1zM606 553h1v5h-1zM616 358h1v6h-1zM616 553h1v5h-1zM626 358h1v6h-1zM626 553h1v5h-1zM636 358h1v6h-1zM636 553h1v5h-1zM646 358h1v6h-1zM646 553h1v5h-1zM656 358h1v6h-1zM656 553h1v5h-1zM666 358h1v6h-1zM666 553h1v5h-1zM676 358h1v6h-1zM676 553h1v5h-1zM686 358h1v6h-1zM686 553h1v5h-1zM696 358h1v6h-1zM696 553h1v5h-1zM706 358h1v6h-1zM706 553h1v5h-1zM716 358h1v6h-1zM716 553h1v5h-1zM726 358h1v6h-1zM726 553h1v5h-1zM736 358h1v6h-1zM736 553h1v5h-1zM746 358h1v6h-1zM746 553h1v5h-1zM756 358h1v6h-1zM756 553h1v5h-1zM766 358h1v6h-1zM766 553h1v5h-1zM776 358h1v6h-1zM776 553h1v5h-1zM786 358h1v6h-1zM786 553h1v5h-1zM796 358h1v6h-1zM796 553h1v5h-1zM806 358h1v6h-1zM806 553h1v5h-1zM816 358h1v6h-1zM816 553h1v5h-1zM826 358h1v6h-1zM826 553h1v5h-1zM836 358h1v6h-1zM836 553h1v5h-1zM846 358h1v6h-1zM846 553h1v5h-1zM856 358h1v6h-1zM856 553h1v5h-1zM866 358h1v6h-1zM866 553h1v5h-1zM876 358h1v6h-1zM876 553h1v5h-1zM886 358h1v6h-1zM886 553h1v5h-1zM896 358h1v6h-1zM896 553h1v5h-1zM906 358h1v6h-1zM906 553h1v5h-1zM916 358h1v6h-1zM916 553h1v5h-1zM926 358h1v6h-1zM926 553h1v5h-1zM936 358h1v6h-1zM936 553h1v5h-1zM946 358h1v6h-1zM946 553h1v5h-1zM956 358h1v6h-1zM956 553h1v5h-1zM966 358h1v6h-1zM966 553h1v5h-1zM976 358h1v6h-1zM976 553h1v5h-1zM986 358h1v6h-1zM986 553h1v5h-1zM996 358h1v6h-1zM996 553h1v5h-1zM1006 358h1v6h-1zM1006 553h1v5h-1zM1016 358h1v6h-1zM1016 553h1v5h-1zM1026 358h1v6h-1zM1026 553h1v5h-1zM1036 358h1v6h-1zM1036 553h1v5h-1zM1046 358h1v6h-1zM1046 553h1v5h-1zM1056 358h1v6h-1zM1056 553h1v5h-1zM1066 358h1v6h-1zM1066 553h1v5h-1zM1076 358h1v6h-1zM1076 553h1v5h-1zM1086 358h1v6h-1zM1086 553h1v5h-1zM1096 358h1v6h-1zM1096 553h1v5h-1zM1106 358h1v6h-1zM1106 553h1v5h-1zM1116 358h1v6h-1zM1116 553h1v5h-1zM1126 358h1v6h-1zM1126 553h1v5h-1zM1136 358h1v6h-1zM1136 553h1v5h-1zM1146 358h1v6h-1zM1146 553h1v5h-1zM1156 358h1v6h-1zM1156 553h1v5h-1zM1166 358h1v6h-1zM1166 553h1v5h-1zM1176 358h1v6h-1zM1176 553h1v5h-1zM1186 358h1v6h-1zM1186 553h1v5h-1zM1196 358h1v6h-1zM1196 553h1v5h-1zM1206 358h1v6h-1zM1206 553h1v5h-1zM1216 358h1v6h-1zM1216 553h1v5h-1zM1226 358h1v6h-1zM1226 553h1v5h-1zM1236 358h1v6h-1zM1236 553h1v5h-1zM1246 358h1v6h-1zM1246 553h1v5h-1zM1256 358h1v6h-1zM1256 553h1v5h-1zM1266 358h1v6h-1zM1266 553h1v5h-1zM1276 358h1v6h-1zM1276 553h1v5h-1zM136 548h1v21h-1zM236 548h1v21h-1zM336 548h1v21h-1zM436 548h1v21h-1zM536 548h1v21h-1zM636 548h1v21h-1zM736 548h1v21h-1zM836 548h1v21h-1zM936 548h1v21h-1zM1036 548h1v21h-1zM1136 548h1v21h-1zM1236 548h1v21h-1z"/>
<path shape-rendering="crispEdges" fill="#000" d="M105 453v16h1v-16zM106 455v8h1v-8zM107 454v9h1v-9zM108 453v10h1v-10zM109 448v23h1v-23zM110 454v10h1v-10zM111 450v17h1v-17zM112 454v10h1v-10zM113 453v11h1v-11zM114 455v9h1v-9zM115 454v10h1v-10zM116 449v15h1v-15zM117 449v17h1v-17zM118 452v19h1v-19zM119 450v16h1v-16zM120 452v10h1v-10zM121 453v9h1v-9zM122 455v9h1v-9zM123 452v12h1v-12zM124 454v12h1v-12zM125 450v13h1v-13zM126 452v16h1v-16zM127 454v13h1v-13zM128 455v8h1v-8zM129 453v14h1v-14zM130 451v12h1v-12zM131 453v11h1v-11zM132 449v15h1v-15zM133 455v11h1v-11zM134 453v10h1v-10zM135 453v14h1v-14zM136 452v12h1v-12zM137 455v8h1v-8zM138 454v9h1v-9zM139 454v10h1v-10zM140 449v17h1v-17zM141 450v17h1v-17zM142 456v11h1v-11zM143 454v12h1v-12zM144 454v9h1v-9zM145 455v10h1v-10zM146 455v8h1v-8zM147 452v12h1v-12zM148 454v9h1v-9zM149 454v9h1v-9zM150 456v7h1v-7zM151 456v7h1v-7zM152 455v7h1v-7zM153 456v7h1v-7zM154 455v9h1v-9zM155 454v10h1v-10zM156 454v10h1v-10zM157 455v7h1v-7zM158 453v11h1v-11zM159 455v7h1v-7zM160 456v8h1v-8zM161 455v9h1v-9zM162 455v8h1v-8zM163 456v7h1v-7zM164 455v7h1v-7zM165 455v9h1v-9zM166 455v8h1v-8zM167 455v7h1v-7zM168 456v8h1v-8zM169 454v8h1v-8zM170 456v8h1v-8zM171 455v8h1v-8zM172 456v6h1v-6zM173 457v5h1v-5zM174 455v7h1v-7zM175 455v8h1v-8zM176 456v8h1v-8zM177 456v7h1v-7zM178 455v11h1v-11zM179 456v6h1v-6zM180 456v7h1v-7zM181 454v8h1v-8zM182 455v9h1v-9zM183 455v9h1v-9zM184 456v5h1v-5zM185 455v7h1v-7zM186 456v6h1v-6zM187 455v8h1v-8zM188 456v6h1v-6zM189 456v7h1v-7zM190 456v6h1v-6zM191 454v9h1v-9zM192 455v8h1v-8zM193 456v7h1v-7zM194 456v7h1v-7zM195 456v6h1v-6zM196 454v9h1v-9zM197 456v7h1v-7zM198 456v7h1v-7zM199 456v5h1v-5zM200 456v6h1v-6zM201 456v6h1v-6zM202 454v7h1v-7zM203 454v8h1v-8zM204 456v5h1v-5zM205 455v7h1v-7zM206 455v7h1v-7zM207 455v7h1v-7zM208 455v7h1v-7zM209 455v8h1v-8zM210 455v7h1v-7zM211 454v10h1v-10zM212 456v6h1v-6zM213 456v6h1v-6zM214 455v8h1v-8zM215 456v6h1v-6zM216 454v9h1v-9zM217 456v7h1v-7zM218 455v7h1v-7zM219 455v7h1v-7zM220 455v9h1v-9zM221 455v7h1v-7zM222 456v7h1v-7zM223 457v6h1v-6zM224 453v10h1v-10zM225 454v8h1v-8zM226 456v7h1v-7zM227 455v8h1v-8zM228 455v8h1v-8zM229 456v5h1v-5zM230 454v8h1v-8zM231 456v8h1v-8zM232 455v8h1v-8zM233 454v10h1v-10zM234 456v6h1v-6zM235 455v7h1v-7zM236 455v7h1v-7zM237 455v9h1v-9zM238 454v9h1v-9zM239 455v9h1v-9zM240 457v6h1v-6zM241 453v9h1v-9zM242 457v7h1v-7zM243 453v9h1v-9zM244 456v7h1v-7zM245 456v6h1v-6zM246 456v7h1v-7zM247 455v8h1v-8zM248 453v10h1v-10zM249 456v7h1v-7zM250 455v7h1v-7zM251 456v6h1v-6zM252 455v8h1v-8zM253 456v6h1v-6zM254 454v9h1v-9zM255 455v9h1v-9zM256 454v9h1v-9zM257 455v8h1v-8zM258 455v8h1v-8zM259 455v7h1v-7zM260 455v8h1v-8zM261 455v9h1v-9zM262 453v9h1v-9zM263 455v8h1v-8zM264 456v7h1v-7zM265 456v6h1v-6zM266 452v12h1v-12zM267 456v9h1v-9zM268 456v6h1v-6zM269 456v7h1v-7zM270 453v10h1v-10zM271 455v8h1v-8zM272 453v11h1v-11zM273 456v8h1v-8zM274 455v7h1v-7zM275 455v7h1v-7zM276 456v6h1v-6zM277 456v6h1v-6zM278 456v7h1v-7zM279 454v9h1v-9zM280 456v8h1v-8zM281 454v9h1v-9zM282 454v10h1v-10zM283 455v9h1v-9zM284 456v8h1v-8zM285 456v7h1v-7zM286 454v8h1v-8zM287 456v8h1v-8zM288 454v8h1v-8zM289 455v8h1v-8zM290 455v8h1v-8zM291 455v7h1v-7zM292 454v9h1v-9zM293 455v8h1v-8zM294 455v6h1v-6zM295 456v6h1v-6zM296 456v6h1v-6zM297 453v10h1v-10zM298 455v8h1v-8zM299 455v8h1v-8zM300 455v6h1v-6zM301 456v8h1v-8zM302 455v8h1v-8zM303 455v7h1v-7zM304 457v5h1v-5zM305 455v7h1v-7zM306 455v8h1v-8zM307 455v8h1v-8zM308 455v8h1v-8zM309 456v7h1v-7zM310 454v10h1v-10zM311 456v8h1v-8zM312 454v7h1v-7zM313 455v9h1v-9zM314 456v8h1v-8zM315 456v6h1v-6zM316 456v7h1v-7zM317 456v8h1v-8zM318 456v7h1v-7zM319 455v10h1v-10zM320 454v9h1v-9zM321 454v9h1v-9zM322 455v8h1v-8zM323 453v10h1v-10zM324 456v7h1v-7zM325 456v6h1v-6zM326 455v8h1v-8zM327 455v8h1v-8zM328 456v9h1v-9zM329 455v8h1v-8zM330 456v6h1v-6zM331 455v8h1v-8zM332 455v9h1v-9zM333 454v9h1v-9zM334 455v8h1v-8zM335 454v8h1v-8zM336 455v8h1v-8zM337 455v8h1v-8zM338 454v8h1v-8zM339 454v10h1v-10zM340 454v10h1v-10zM341 454v10h1v-10zM342 452v11h1v-11zM343 452v12h1v-12zM344 454v8h1v-8zM345 455v7h1v-7zM346 454v10h1v-10zM347 453v9h1v-9zM348 454v9h1v-9zM349 453v9h1v-9zM350 453v9h1v-9zM351 452v10h1v-10zM352 455v8h1v-8zM353 453v10h1v-10zM354 452v10h1v-10zM355 454v8h1v-8zM356 454v9h1v-9zM357 454v10h1v-10zM358 453v9h1v-9zM359 455v8h1v-8zM360 455v8h1v-8zM361 454v10h1v-10zM362 452v11h1v-11zM363 452v12h1v-12zM364 454v10h1v-10zM365 452v11h1v-11zM366 455v8h1v-8zM367 452v12h1v-12zM368 454v11h1v-11zM369 453v10h1v-10zM370 451v11h1v-11zM371 455v9h1v-9zM372 455v7h1v-7zM373 455v6h1v-6zM374 453v11h1v-11zM375 455v8h1v-8zM376 455v7h1v-7zM377 454v9h1v-9zM378 454v11h1v-11zM379 454v8h1v-8zM380 454v10h1v-10zM381 454v10h1v-10zM382 455v9h1v-9zM383 451v11h1v-11zM384 454v9h1v-9zM385 453v14h1v-14zM386 453v10h1v-10zM387 451v13h1v-13zM388 454v10h1v-10zM389 452v10h1v-10zM390 454v9h1v-9zM391 454v11h1v-11zM392 453v12h1v-12zM393 454v8h1v-8zM394 455v9h1v-9zM395 452v13h1v-13zM396 452v11h1v-11zM397 453v11h1v-11zM398 453v13h1v-13zM399 454v8h1v-8zM400 454v10h1v-10zM401 453v12h1v-12zM402 453v10h1v-10zM403 454v12h1v-12zM404 451v12h1v-12zM405 453v12h1v-12zM406 451v13h1v-13zM407 453v11h1v-11zM408 450v16h1v-16zM409 452v14h1v-14zM410 452v14h1v-14zM411 452v12h1v-12zM412 451v13h1v-13zM413 452v11h1v-11zM414 449v16h1v-16zM415 448v16h1v-16zM416 453v9h1v-9zM417 452v14h1v-14zM418 453v10h1v-10zM419 452v13h1v-13zM420 451v15h1v-15zM421 451v15h1v-15zM422 453v12h1v-12zM423 454v10h1v-10zM424 453v11h1v-11zM425 452v13h1v-13zM426 453v12h1v-12zM427 452v13h1v-13zM428 449v16h1v-16zM429 451v16h1v-16zM430 451v15h1v-15zM431 447v19h1v-19zM432 451v14h1v-14zM433 447v17h1v-17zM434 451v14h1v-14zM435 447v19h1v-19zM436 450v14h1v-14zM437 449v17h1v-17zM438 451v14h1v-14zM439 449v16h1v-16zM440 449v18h1v-18zM441 451v12h1v-12zM442 448v16h1v-16zM443 451v16h1v-16zM444 449v18h1v-18zM445 446v23h1v-23zM446 449v17h1v-17zM447 452v13h1v-13zM448 452v19h1v-19zM449 446v20h1v-20zM450 451v18h1v-18zM451 448v17h1v-17zM452 448v18h1v-18zM453 449v20h1v-20zM454 451v15h1v-15zM455 447v20h1v-20zM456 449v21h1v-21zM457 442v25h1v-25zM458 449v21h1v-21zM459 444v25h1v-25zM460 447v25h1v-25zM461 447v20h1v-20zM462 446v22h1v-22zM463 446v22h1v-22zM464 447v23h1v-23zM465 440v29h1v-29zM466 447v22h1v-22zM467 445v23h1v-23zM468 441v29h1v-29zM469 443v31h1v-31zM470 443v26h1v-26zM471 438v34h1v-34zM472 445v26h1v-26zM473 445v30h1v-30zM474 440v33h1v-33zM475 449v24h1v-24zM476 444v25h1v-25zM477 450v24h1v-24zM478 436v41h1v-41zM479 441v31h1v-31zM480 444v25h1v-25zM481 450v18h1v-18zM482 438v33h1v-33zM483 447v26h1v-26zM484 445v29h1v-29zM485 448v18h1v-18zM486 442v26h1v-26zM487 448v30h1v-30zM488 446v25h1v-25zM489 446v27h1v-27zM490 445v31h1v-31zM491 447v37h1v-37zM492 448v29h1v-29zM493 443v36h1v-36zM494 446v26h1v-26zM495 439v31h1v-31zM496 436v44h1v-44zM497 434v51h1v-51zM498 442v32h1v-32zM499 446v25h1v-25zM500 442v36h1v-36zM501 442v37h1v-37zM502 442v34h1v-34zM503 447v34h1v-34zM504 441v31h1v-31zM505 443v42h1v-42zM506 437v40h1v-40zM507 442v28h1v-28zM508 439v42h1v-42zM509 441v32h1v-32zM510 444v31h1v-31zM511 446v31h1v-31zM512 437v40h1v-40zM513 439v34h1v-34zM514 432v46h1v-46zM515 446v35h1v-35zM516 430v48h1v-48zM517 439v36h1v-36zM518 434v48h1v-48zM519 431v47h1v-47zM520 443v33h1v-33zM521 445v41h1v-41zM522 434v51h1v-51zM523 437v53h1v-53zM524 425v59h1v-59zM525 430v55h1v-55zM526 438v61h1v-61zM527 441v33h1v-33zM528 439v35h1v-35zM529 432v61h1v-61zM530 435v50h1v-50zM531 430v55h1v-55zM532 430v66h1v-66zM533 424v47h1v-47zM534 428v71h1v-71zM535 438v65h1v-65zM536 435v51h1v-51zM537 428v60h1v-60zM538 427v58h1v-58zM539 423v52h1v-52zM540 433v51h1v-51zM541 419v62h1v-62zM542 426v64h1v-64zM543 423v57h1v-57zM544 429v65h1v-65zM545 423v64h1v-64zM546 442v37h1v-37zM547 431v40h1v-40zM548 437v45h1v-45zM549 437v41h1v-41zM550 423v66h1v-66zM551 427v58h1v-58zM552 428v51h1v-51zM553 425v60h1v-60zM554 425v66h1v-66zM555 427v74h1v-74zM556 416v57h1v-57zM557 429v66h1v-66zM558 406v67h1v-67zM559 435v60h1v-60zM560 416v61h1v-61zM561 433v58h1v-58zM562 428v52h1v-52zM563 428v78h1v-78zM564 435v53h1v-53zM565 421v77h1v-77zM566 430v66h1v-66zM567 435v60h1v-60zM568 434v62h1v-62zM569 408v99h1v-99zM570 439v54h1v-54zM571 432v63h1v-63zM572 423v72h1v-72zM573 423v49h1v-49zM574 411v66h1v-66zM575 423v61h1v-61zM576 425v61h1v-61zM577 415v65h1v-65zM578 418v71h1v-71zM579 436v33h1v-33zM580 418v61h1v-61zM581 422v63h1v-63zM582 441v44h1v-44zM583 442v36h1v-36zM584 424v50h1v-50zM585 424v63h1v-63zM586 423v67h1v-67zM587 430v71h1v-71zM588 407v83h1v-83zM589 425v56h1v-56zM590 428v63h1v-63zM591 440v50h1v-50zM592 408v87h1v-87zM593 435v59h1v-59zM594 440v41h1v-41zM595 425v71h1v-71zM596 413v82h1v-82zM597 430v54h1v-54zM598 410v80h1v-80zM599 415v81h1v-81zM600 423v68h1v-68zM601 423v77h1v-77zM602 428v75h1v-75zM603 424v74h1v-74zM604 416v79h1v-79zM605 420v78h1v-78zM606 404v89h1v-89zM607 414v82h1v-82zM608 428v51h1v-51zM609 390v104h1v-104zM610 430v79h1v-79zM611 433v93h1v-93zM612 429v61h1v-61zM613 412v79h1v-79zM614 428v76h1v-76zM615 411v96h1v-96zM616 418v97h1v-97zM617 417v78h1v-78zM618 421v81h1v-81zM619 438v38h1v-38zM620 412v92h1v-92zM621 414v87h1v-87zM622 415v114h1v-114zM623 418v88h1v-88zM624 425v66h1v-66zM625 432v46h1v-46zM626 424v74h1v-74zM627 401v105h1v-105zM628 430v69h1v-69zM629 424v74h1v-74zM630 437v47h1v-47zM631 438v42h1v-42zM632 410v74h1v-74zM633 430v54h1v-54zM634 410v69h1v-69zM635 438v47h1v-47zM636 446v27h1v-27zM637 429v61h1v-61zM638 428v46h1v-46zM639 415v65h1v-65zM640 433v50h1v-50zM641 412v56h1v-56zM642 436v41h1v-41zM643 439v37h1v-37zM644 442v41h1v-41zM645 445v37h1v-37zM646 434v43h1v-43zM647 432v44h1v-44zM648 443v44h1v-44zM649 436v49h1v-49zM650 437v49h1v-49zM651 440v44h1v-44zM652 436v50h1v-50zM653 441v47h1v-47zM654 442v30h1v-30zM655 437v45h1v-45zM656 438v39h1v-39zM657 435v45h1v-45zM658 444v30h1v-30zM659 433v49h1v-49zM660 445v28h1v-28zM661 433v48h1v-48zM662 440v47h1v-47zM663 431v55h1v-55zM664 418v59h1v-59zM665 442v27h1v-27zM666 439v38h1v-38zM667 442v34h1v-34zM668 438v51h1v-51zM669 441v44h1v-44zM670 446v40h1v-40zM671 443v50h1v-50zM672 439v40h1v-40zM673 427v56h1v-56zM674 446v27h1v-27zM675 442v31h1v-31zM676 423v49h1v-49zM677 445v29h1v-29zM678 445v27h1v-27zM679 445v27h1v-27zM680 441v36h1v-36zM681 442v30h1v-30zM682 443v33h1v-33zM683 441v34h1v-34zM684 443v29h1v-29zM685 444v40h1v-40zM686 423v57h1v-57zM687 437v38h1v-38zM688 415v71h1v-71zM689 423v52h1v-52zM690 429v51h1v-51zM691 435v44h1v-44zM692 440v33h1v-33zM693 437v39h1v-39zM694 439v33h1v-33zM695 434v44h1v-44zM696 419v68h1v-68zM697 428v46h1v-46zM698 429v63h1v-63zM699 433v56h1v-56zM700 426v60h1v-60zM701 437v36h1v-36zM702 432v39h1v-39zM703 446v28h1v-28zM704 434v43h1v-43zM705 438v30h1v-30zM706 433v39h1v-39zM707 433v43h1v-43zM708 432v43h1v-43zM709 432v46h1v-46zM710 441v32h1v-32zM711 434v33h1v-33zM712 433v44h1v-44zM713 445v27h1v-27zM714 434v42h1v-42zM715 432v44h1v-44zM716 443v40h1v-40zM717 436v61h1v-61zM718 434v60h1v-60zM719 420v79h1v-79zM720 435v41h1v-41zM721 432v54h1v-54zM722 440v35h1v-35zM723 416v87h1v-87zM724 428v53h1v-53zM725 419v64h1v-64zM726 445v30h1v-30zM727 432v45h1v-45zM728 428v44h1v-44zM729 430v44h1v-44zM730 435v47h1v-47zM731 434v47h1v-47zM732 441v36h1v-36zM733 441v24h1v-24zM734 442v32h1v-32zM735 443v46h1v-46zM736 443v27h1v-27zM737 426v51h1v-51zM738 427v52h1v-52zM739 436v52h1v-52zM740 435v41h1v-41zM741 435v34h1v-34zM742 439v49h1v-49zM743 424v56h1v-56zM744 434v37h1v-37zM745 432v40h1v-40zM746 423v69h1v-69zM747 416v60h1v-60zM748 437v39h1v-39zM749 441v47h1v-47zM750 419v56h1v-56zM751 419v55h1v-55zM752 440v41h1v-41zM753 437v47h1v-47zM754 444v33h1v-33zM755 439v40h1v-40zM756 435v37h1v-37zM757 438v41h1v-41zM758 440v29h1v-29zM759 438v33h1v-33zM760 443v34h1v-34zM761 438v29h1v-29zM762 433v44h1v-44zM763 448v28h1v-28zM764 436v39h1v-39zM765 443v33h1v-33zM766 439v42h1v-42zM767 443v34h1v-34zM768 430v43h1v-43zM769 444v36h1v-36zM770 445v26h1v-26zM771 445v29h1v-29zM772 442v26h1v-26zM773 444v41h1v-41zM774 446v38h1v-38zM775 430v42h1v-42zM776 436v36h1v-36zM777 435v52h1v-52zM778 440v45h1v-45zM779 431v42h1v-42zM780 434v43h1v-43zM781 429v41h1v-41zM782 444v44h1v-44zM783 449v23h1v-23zM784 436v35h1v-35zM785 450v24h1v-24zM786 431v41h1v-41zM787 444v29h1v-29zM788 438v36h1v-36zM789 428v49h1v-49zM790 425v56h1v-56zM791 433v39h1v-39zM792 433v46h1v-46zM793 438v40h1v-40zM794 445v27h1v-27zM795 438v36h1v-36zM796 448v23h1v-23zM797 429v44h1v-44zM798 447v37h1v-37zM799 443v31h1v-31zM800 431v37h1v-37zM801 441v42h1v-42zM802 439v40h1v-40zM803 444v30h1v-30zM804 433v37h1v-37zM805 440v37h1v-37zM806 439v35h1v-35zM807 431v56h1v-56zM808 445v29h1v-29zM809 435v39h1v-39zM810 445v26h1v-26zM811 441v33h1v-33zM812 440v31h1v-31zM813 444v26h1v-26zM814 446v32h1v-32zM815 441v37h1v-37zM816 439v45h1v-45zM817 446v33h1v-33zM818 438v30h1v-30zM819 439v30h1v-30zM820 439v33h1v-33zM821 442v41h1v-41zM822 442v34h1v-34zM823 447v25h1v-25zM824 435v41h1v-41zM825 440v39h1v-39zM826 443v29h1v-29zM827 444v41h1v-41zM828 429v43h1v-43zM829 438v32h1v-32zM830 444v30h1v-30zM831 446v27h1v-27zM832 445v30h1v-30zM833 441v29h1v-29zM834 441v38h1v-38zM835 438v37h1v-37zM836 442v37h1v-37zM837 443v29h1v-29zM838 432v49h1v-49zM839 422v53h1v-53zM840 436v37h1v-37zM841 449v23h1v-23zM842 444v26h1v-26zM843 444v34h1v-34zM844 430v40h1v-40zM845 439v39h1v-39zM846 445v27h1v-27zM847 434v36h1v-36zM848 445v28h1v-28zM849 449v21h1v-21zM850 437v37h1v-37zM851 445v33h1v-33zM852 443v33h1v-33zM853 439v34h1v-34zM854 443v32h1v-32zM855 445v29h1v-29zM856 445v25h1v-25zM857 439v36h1v-36zM858 446v43h1v-43zM859 439v33h1v-33zM860 444v34h1v-34zM861 445v27h1v-27zM862 444v34h1v-34zM863 441v34h1v-34zM864 441v45h1v-45zM865 439v45h1v-45zM866 447v34h1v-34zM867 441v36h1v-36zM868 444v33h1v-33zM869 444v29h1v-29zM870 447v28h1v-28zM871 445v31h1v-31zM872 435v42h1v-42zM873 444v29h1v-29zM874 447v24h1v-24zM875 440v29h1v-29zM876 441v30h1v-30zM877 438v39h1v-39zM878 442v33h1v-33zM879 443v26h1v-26zM880 445v22h1v-22zM881 440v33h1v-33zM882 442v28h1v-28zM883 443v31h1v-31zM884 442v32h1v-32zM885 442v34h1v-34zM886 428v50h1v-50zM887 442v37h1v-37zM888 437v51h1v-51zM889 423v51h1v-51zM890 425v62h1v-62zM891 432v55h1v-55zM892 434v42h1v-42zM893 443v35h1v-35zM894 436v34h1v-34zM895 441v43h1v-43zM896 440v35h1v-35zM897 443v31h1v-31zM898 442v43h1v-43zM899 438v51h1v-51zM900 436v43h1v-43zM901 440v34h1v-34zM902 433v38h1v-38zM903 444v44h1v-44zM904 440v30h1v-30zM905 447v27h1v-27zM906 434v47h1v-47zM907 440v41h1v-41zM908 436v34h1v-34zM909 443v36h1v-36zM910 436v40h1v-40zM911 441v25h1v-25zM912 444v23h1v-23zM913 451v25h1v-25zM914 438v35h1v-35zM915 447v21h1v-21zM916 434v39h1v-39zM917 441v32h1v-32zM918 442v35h1v-35zM919 438v44h1v-44zM920 434v37h1v-37zM921 442v32h1v-32zM922 445v30h1v-30zM923 432v38h1v-38zM924 432v44h1v-44zM925 444v30h1v-30zM926 435v39h1v-39zM927 427v45h1v-45zM928 446v48h1v-48zM929 417v55h1v-55zM930 444v43h1v-43zM931 439v39h1v-39zM932 442v31h1v-31zM933 438v35h1v-35zM934 449v25h1v-25zM935 445v21h1v-21zM936 447v27h1v-27zM937 429v51h1v-51zM938 435v50h1v-50zM939 438v31h1v-31zM940 447v27h1v-27zM941 441v25h1v-25zM942 441v36h1v-36zM943 441v36h1v-36zM944 443v35h1v-35zM945 443v31h1v-31zM946 445v33h1v-33zM947 443v26h1v-26zM948 443v34h1v-34zM949 433v42h1v-42zM950 443v35h1v-35zM951 447v28h1v-28zM952 444v32h1v-32zM953 436v39h1v-39zM954 445v25h1v-25zM955 439v41h1v-41zM956 449v19h1v-19zM957 435v38h1v-38zM958 445v45h1v-45zM959 434v42h1v-42zM960 440v35h1v-35zM961 442v29h1v-29zM962 448v36h1v-36zM963 443v39h1v-39zM964 438v48h1v-48zM965 436v34h1v-34zM966 438v37h1v-37zM967 442v43h1v-43zM968 443v47h1v-47zM969 439v36h1v-36zM970 446v29h1v-29zM971 439v34h1v-34zM972 434v40h1v-40zM973 446v28h1v-28zM974 445v26h1v-26zM975 440v31h1v-31zM976 446v28h1v-28zM977 434v34h1v-34zM978 445v26h1v-26zM979 434v35h1v-35zM980 442v30h1v-30zM981 434v37h1v-37zM982 436v39h1v-39zM983 435v39h1v-39zM984 444v30h1v-30zM985 445v27h1v-27zM986 443v29h1v-29zM987 452v17h1v-17zM988 428v44h1v-44zM989 445v28h1v-28zM990 443v28h1v-28zM991 443v31h1v-31zM992 435v43h1v-43zM993 441v30h1v-30zM994 444v25h1v-25zM995 439v41h1v-41zM996 434v60h1v-60zM997 438v46h1v-46zM998 436v38h1v-38zM999 438v36h1v-36zM1000 442v31h1v-31zM1001 440v31h1v-31zM1002 446v34h1v-34zM1003 445v22h1v-22zM1004 447v34h1v-34zM1005 437v44h1v-44zM1006 432v48h1v-48zM1007 443v38h1v-38zM1008 442v42h1v-42zM1009 439v31h1v-31zM1010 442v47h1v-47zM1011 438v29h1v-29zM1012 447v41h1v-41zM1013 446v27h1v-27zM1014 431v47h1v-47zM1015 427v55h1v-55zM1016 426v59h1v-59zM1017 428v52h1v-52zM1018 429v51h1v-51zM1019 426v52h1v-52zM1020 418v58h1v-58zM1021 431v43h1v-43zM1022 443v29h1v-29zM1023 442v27h1v-27zM1024 426v47h1v-47zM1025 444v30h1v-30zM1026 438v46h1v-46zM1027 430v46h1v-46zM1028 445v30h1v-30zM1029 437v40h1v-40zM1030 445v26h1v-26zM1031 432v46h1v-46zM1032 437v41h1v-41zM1033 442v40h1v-40zM1034 439v35h1v-35zM1035 435v38h1v-38zM1036 437v37h1v-37zM1037 443v28h1v-28zM1038 441v30h1v-30zM1039 435v37h1v-37zM1040 436v37h1v-37zM1041 444v41h1v-41zM1042 443v37h1v-37zM1043 437v36h1v-36zM1044 433v39h1v-39zM1045 446v22h1v-22zM1046 433v45h1v-45zM1047 443v33h1v-33zM1048 440v38h1v-38zM1049 443v33h1v-33zM1050 429v44h1v-44zM1051 442v34h1v-34zM1052 441v31h1v-31zM1053 444v31h1v-31zM1054 434v40h1v-40zM1055 449v26h1v-26zM1056 437v35h1v-35zM1057 443v40h1v-40zM1058 442v31h1v-31zM1059 433v57h1v-57zM1060 439v36h1v-36zM1061 432v46h1v-46zM1062 436v50h1v-50zM1063 429v65h1v-65zM1064 444v39h1v-39zM1065 445v40h1v-40zM1066 446v23h1v-23zM1067 437v42h1v-42zM1068 448v37h1v-37zM1069 440v38h1v-38zM1070 437v43h1v-43zM1071 429v64h1v-64zM1072 434v46h1v-46zM1073 439v37h1v-37zM1074 444v40h1v-40zM1075 434v50h1v-50zM1076 445v35h1v-35zM1077 441v50h1v-50zM1078 439v34h1v-34zM1079 436v46h1v-46zM1080 441v54h1v-54zM1081 439v39h1v-39zM1082 434v37h1v-37zM1083 425v48h1v-48zM1084 424v51h1v-51zM1085 434v46h1v-46zM1086 439v43h1v-43zM1087 440v32h1v-32zM1088 449v26h1v-26zM1089 419v55h1v-55zM1090 432v55h1v-55zM1091 415v66h1v-66zM1092 429v50h1v-50zM1093 445v28h1v-28zM1094 431v44h1v-44zM1095 442v37h1v-37zM1096 436v43h1v-43zM1097 418v56h1v-56zM1098 423v68h1v-68zM1099 428v64h1v-64zM1100 423v75h1v-75zM1101 444v36h1v-36zM1102 436v43h1v-43zM1103 443v28h1v-28zM1104 433v49h1v-49zM1105 438v33h1v-33zM1106 432v55h1v-55zM1107 435v44h1v-44zM1108 432v46h1v-46zM1109 435v52h1v-52zM1110 447v37h1v-37zM1111 436v35h1v-35zM1112 436v49h1v-49zM1113 444v29h1v-29zM1114 446v36h1v-36zM1115 444v41h1v-41zM1116 424v75h1v-75zM1117 427v43h1v-43zM1118 439v31h1v-31zM1119 431v65h1v-65zM1120 438v39h1v-39zM1121 445v38h1v-38zM1122 440v38h1v-38zM1123 429v67h1v-67zM1124 441v34h1v-34zM1125 430v59h1v-59zM1126 427v54h1v-54zM1127 443v44h1v-44zM1128 442v39h1v-39zM1129 438v38h1v-38zM1130 438v36h1v-36zM1131 442v34h1v-34zM1132 432v53h1v-53zM1133 429v53h1v-53zM1134 429v53h1v-53zM1135 448v22h1v-22zM1136 433v48h1v-48zM1137 438v45h1v-45zM1138 437v47h1v-47zM1139 445v42h1v-42zM1140 443v36h1v-36zM1141 439v46h1v-46zM1142 439v45h1v-45zM1143 450v24h1v-24zM1144 437v29h1v-29zM1145 442v41h1v-41zM1146 423v60h1v-60zM1147 426v51h1v-51zM1148 442v35h1v-35zM1149 443v33h1v-33zM1150 427v47h1v-47zM1151 437v43h1v-43zM1152 443v33h1v-33zM1153 442v36h1v-36zM1154 443v30h1v-30zM1155 448v42h1v-42zM1156 438v42h1v-42zM1157 441v32h1v-32zM1158 443v40h1v-40zM1159 438v51h1v-51zM1160 437v41h1v-41zM1161 433v51h1v-51zM1162 441v39h1v-39zM1163 443v34h1v-34zM1164 437v40h1v-40zM1165 428v56h1v-56zM1166 436v49h1v-49zM1167 437v36h1v-36zM1168 450v19h1v-19zM1169 426v58h1v-58zM1170 442v33h1v-33zM1171 441v31h1v-31zM1172 444v31h1v-31zM1173 432v38h1v-38zM1174 443v33h1v-33zM1175 440v33h1v-33zM1176 440v36h1v-36zM1177 443v41h1v-41zM1178 439v39h1v-39zM1179 434v41h1v-41zM1180 442v35h1v-35zM1181 437v43h1v-43zM1182 443v32h1v-32zM1183 436v39h1v-39zM1184 440v35h1v-35zM1185 448v38h1v-38zM1186 432v46h1v-46zM1187 445v33h1v-33zM1188 429v46h1v-46zM1189 443v27h1v-27zM1190 447v43h1v-43zM1191 433v45h1v-45zM1192 429v51h1v-51zM1193 433v40h1v-40zM1194 451v32h1v-32zM1195 442v29h1v-29zM1196 428v58h1v-58zM1197 432v53h1v-53zM1198 432v48h1v-48zM1199 438v60h1v-60zM1200 442v30h1v-30zM1201 428v42h1v-42zM1202 432v47h1v-47zM1203 437v42h1v-42zM1204 441v49h1v-49zM1205 440v55h1v-55zM1206 438v51h1v-51zM1207 444v27h1v-27zM1208 434v46h1v-46zM1209 435v37h1v-37zM1210 434v38h1v-38zM1211 441v36h1v-36zM1212 439v36h1v-36zM1213 442v38h1v-38zM1214 443v27h1v-27zM1215 444v28h1v-28zM1216 449v27h1v-27zM1217 443v30h1v-30zM1218 446v30h1v-30zM1219 439v29h1v-29zM1220 441v33h1v-33zM1221 448v24h1v-24zM1222 434v46h1v-46zM1223 433v45h1v-45zM1224 438v40h1v-40zM1225 435v46h1v-46zM1226 440v33h1v-33zM1227 435v34h1v-34zM1228 438v50h1v-50zM1229 432v50h1v-50zM1230 441v25h1v-25zM1231 445v28h1v-28zM1232 446v33h1v-33zM1233 437v53h1v-53zM1234 424v58h1v-58zM1235 441v26h1v-26zM1236 448v26h1v-26zM1237 435v34h1v-34zM1238 444v29h1v-29zM1239 441v43h1v-43zM1240 440v45h1v-45zM1241 430v46h1v-46zM1242 441v47h1v-47zM1243 445v34h1v-34zM1244 435v36h1v-36zM1245 444v32h1v-32zM1246 438v39h1v-39zM1247 440v35h1v-35zM1248 434v41h1v-41zM1249 444v27h1v-27zM1250 446v26h1v-26zM1251 444v26h1v-26zM1252 434v40h1v-40zM1253 444v31h1v-31zM1254 440v33h1v-33zM1255 439v36h1v-36zM1256 434v36h1v-36zM1257 440v33h1v-33zM1258 445v32h1v-32zM1259 445v23h1v-23zM1260 442v26h1v-26zM1261 442v33h1v-33zM1262 444v36h1v-36zM1263 427v46h1v-46zM1264 444v29h1v-29zM1265 438v44h1v-44zM1266 445v35h1v-35zM1267 445v26h1v-26zM1268 438v31h1v-31zM1269 442v29h1v-29zM1270 434v37h1v-37zM1271 442v39h1v-39zM1272 445v35h1v-35zM1273 439v35h1v-35zM1274 445v30h1v-30zM1275 444v42h1v-42zM1276 437v43h1v-43zM1277 444v40h1v-40zM1278 432v60h1v-60zM1279 443v30h1v-30zM1280 443v31h1v-31zM1281 442v36h1v-36zM1282 440v48h1v-48zM1283 438v52h1v-52zM1284 441v49h1v-49zM1285 442v50h1v-50z"/>
<text class="s" transform="scale(0.8 1)" x="237.50 246.25 255.00 263.75 272.50 281.25 290.00 298.75 307.50 316.25 325.00 333.75 342.50 351.25 360.00 368.75 377.50 386.25 395.00 403.75 412.50 421.25 430.00 438.75 447.50 456.25 465.00" y="354" xml:space="preserve">OK003_GS_HNN_01  Jun 4,2020</text>
<text class="s" transform="scale(0.92 1)" x="33.15 40.76 48.37 55.98 63.59" y="364" xml:space="preserve">0.956</text>
<text class="s" transform="scale(0.86 1)" x="11.05 19.19 27.33 35.47 43.60 51.74 59.88 68.02 76.16 84.30" y="444" xml:space="preserve">cm/sec/sec</text>
<text class="s" transform="scale(0.92 1)" x="63.04" y="464" xml:space="preserve">0</text>
<text class="s" transform="scale(0.92 1)" x="25.00 32.61 40.22 47.83 55.43 63.04" y="564" xml:space="preserve">-0.956</text>
<text class="s" transform="scale(0.92 1)" x="124.46 132.07 139.67 147.28 154.89 162.50 170.11 177.72" y="584" xml:space="preserve">16:50:10</text>
<text class="s" transform="scale(0.92 1)" x="233.15 240.76 248.37 255.98 263.59 271.20 278.80 286.41" y="584" xml:space="preserve">16:50:20</text>
<text class="s" transform="scale(0.92 1)" x="341.85 349.46 357.07 364.67 372.28 379.89 387.50 395.11" y="584" xml:space="preserve">16:50:30</text>
<text class="s" transform="scale(0.92 1)" x="450.54 458.15 465.76 473.37 480.98 488.59 496.20 503.80" y="584" xml:space="preserve">16:50:40</text>
<text class="s" transform="scale(0.92 1)" x="559.24 566.85 574.46 582.07 589.67 597.28 604.89 612.50" y="584" xml:space="preserve">16:50:50</text>
<text class="s" transform="scale(0.92 1)" x="667.93 675.54 683.15 690.76 698.37 705.98 713.59 721.20" y="584" xml:space="preserve">16:51:00</text>
<text class="s" transform="scale(0.92 1)" x="776.63 784.24 791.85 799.46 807.07 814.67 822.28 829.89" y="584" xml:space="preserve">16:51:10</text>
<text class="s" transform="scale(0.92 1)" x="885.33 892.93 900.54 908.15 915.76 923.37 930.98 938.59" y="584" xml:space="preserve">16:51:20</text>
<text class="s" transform="scale(0.92 1)" x="994.02 1001.63 1009.24 1016.85 1024.46 1032.07 1039.67 1047.28" y="584" xml:space="preserve">16:51:30</text>
<text class="s" transform="scale(0.92 1)" x="1102.72 1110.33 1117.93 1125.54 1133.15 1140.76 1148.37 1155.98" y="584" xml:space="preserve">16:51:40</text>
<text class="s" transform="scale(0.92 1)" x="1211.41 1219.02 1226.63 1234.24 1241.85 1249.46 1257.07 1264.67" y="584" xml:space="preserve">16:51:50</text>
<text class="s" transform="scale(0.92 1)" x="1320.11 1327.72 1335.33 1342.93 1350.54 1358.15 1365.76 1373.37" y="584" xml:space="preserve">16:52:00</text>
</g>
<g id="plot3">
<path shape-rendering="crispEdges" fill="#000" d="M76 666h1211v1h-1211zM76 866h1211v1h-1211zM86 666h1v201h-1zM1286 666h1v201h-1zM76 766h10v1h-10zM96 666h1v6h-1zM96 861h1v5h-1zM106 666h1v6h-1zM106 861h1v5h-1zM116 666h1v6h-1zM116 861h1v5h-1zM126 666h1v6h-1zM126 861h1v5h-1zM136 666h1v6h-1zM136 861h1v5h-1zM146 666h1v6h-1zM146 861h1v5h-1zM156 666h1v6h-1zM156 861h1v5h-1zM166 666h1v6h-1zM166 861h1v5h-1zM176 666h1v6h-1zM176 861h1v5h-1zM186 666h1v6h-1zM186 861h1v5h-1zM196 666h1v6h-1zM196 861h1v5h-1zM206 666h1v6h-1zM206 861h1v5h-1zM216 666h1v6h-1zM216 861h1v5h-1zM226 666h1v6h-1zM226 861h1v5h-1zM236 666h1v6h-1zM236 861h1v5h-1zM246 666h1v6h-1zM246 861h1v5h-1zM256 666h1v6h-1zM256 861h1v5h-1zM266 666h1v6h-1zM266 861h1v5h-1zM276 666h1v6h-1zM276 861h1v5h-1zM286 666h1v6h-1zM286 861h1v5h-1zM296 666h1v6h-1zM296 861h1v5h-1zM306 666h1v6h-1zM306 861h1v5h-1zM316 666h1v6h-1zM316 861h1v5h-1zM326 666h1v6h-1zM326 861h1v5h-1zM336 666h1v6h-1zM336 861h1v5h-1zM346 666h1v6h-1zM346 861h1v5h-1zM356 666h1v6h-1zM356 861h1v5h-1zM366 666h1v6h-1zM366 861h1v5h-1zM376 666h1v6h-1zM376 861h1v5h-1zM386 666h1v6h-1zM386 861h1v5h-1zM396 666h1v6h-1zM396 861h1v5h-1zM406 666h1v6h-1zM406 861h1v5h-1zM416 666h1v6h-1zM416 861h1v5h-1zM426 666h1v6h-1zM426 861h1v5h-1zM436 666h1v6h-1zM436 861h1v5h-1zM446 666h1v6h-1zM446 861h1v5h-1zM456 666h1v6h-1zM456 861h1v5h-1zM466 666h1v6h-1zM466 861h1v5h-1zM476 666h1v6h-1zM476 861h1v5h-1zM486 666h1v6h-1zM486 861h1v5h-1zM496 666h1v6h-1zM496 861h1v5h-1zM506 666h1v6h-1zM506 861h1v5h-1zM516 666h1v6h-1zM516 861h1v5h-1zM526 666h1v6h-1zM526 861h1v5h-1zM536 666h1v6h-1zM536 861h1v5h-1zM546 666h1v6h-1zM546 861h1v5h-1zM556 666h1v6h-1zM556 861h1v5h-1zM566 666h1v6h-1zM566 861h1v5h-1zM576 666h1v6h-1zM576 861h1v5h-1zM586 666h1v6h-1zM586 861h1v5h-1zM596 666h1v6h-1zM596 861h1v5h-1zM606 666h1v6h-1zM606 861h1v5h-1zM616 666h1v6h-1zM616 861h1v5h-1zM626 666h1v6h-1zM626 861h1v5h-1zM636 666h1v6h-1zM636 861h1v5h-1zM646 666h1v6h-1zM646 861h1v5h-1zM656 666h1v6h-1zM656 861h1v5h-1zM666 666h1v6h-1zM666 861h1v5h-1zM676 666h1v6h-1zM676 861h1v5h-1zM686 666h1v6h-1zM686 861h1v5h-1zM696 666h1v6h-1zM696 861h1v5h-1zM706 666h1v6h-1zM706 861h1v5h-1zM716 666h1v6h-1zM716 861h1v5h-1zM726 666h1v6h-1zM726 861h1v5h-1zM736 666h1v6h-1zM736 861h1v5h-1zM746 666h1v6h-1zM746 861h1v5h-1zM756 666h1v6h-1zM756 861h1v5h-1zM766 666h1v6h-1zM766 861h1v5h-1zM776 666h1v6h-1zM776 861h1v5h-1zM786 666h1v6h-1zM786 861h1v5h-1zM796 666h1v6h-1zM796 861h1v5h-1zM806 666h1v6h-1zM806 861h1v5h-1zM816 666h1v6h-1zM816 861h1v5h-1zM826 666h1v6h-1zM826 861h1v5h-1zM836 666h1v6h-1zM836 861h1v5h-1zM846 666h1v6h-1zM846 861h1v5h-1zM856 666h1v6h-1zM856 861h1v5h-1zM866 666h1v6h-1zM866 861h1v5h-1zM876 666h1v6h-1zM876 861h1v5h-1zM886 666h1v6h-1zM886 861h1v5h-1zM896 666h1v6h-1zM896 861h1v5h-1zM906 666h1v6h-1zM906 861h1v5h-1zM916 666h1v6h-1zM916 861h1v5h-1zM926 666h1v6h-1zM926 861h1v5h-1zM936 666h1v6h-1zM936 861h1v5h-1zM946 666h1v6h-1zM946 861h1v5h-1zM956 666h1v6h-1zM956 861h1v5h-1zM966 666h1v6h-1zM966 861h1v5h-1zM976 666h1v6h-1zM976 861h1v5h-1zM986 666h1v6h-1zM986 861h1v5h-1zM996 666h1v6h-1zM996 861h1v5h-1zM1006 666h1v6h-1zM1006 861h1v5h-1zM1016 666h1v6h-1zM1016 861h1v5h-1zM1026 666h1v6h-1zM1026 861h1v5h-1zM1036 666h1v6h-1zM1036 861h1v5h-1zM1046 666h1v6h-1zM1046 861h1v5h-1zM1056 666h1v6h-1zM1056 861h1v5h-1zM1066 666h1v6h-1zM1066 861h1v5h-1zM1076 666h1v6h-1zM1076 861h1v5h-1zM1086 666h1v6h-1zM1086 861h1v5h-1zM1096 666h1v6h-1zM1096 861h1v5h-1zM1106 666h1v6h-1zM1106 861h1v5h-1zM1116 666h1v6h-1zM1116 861h1v5h-1zM1126 666h1v6h-1zM1126 861h1v5h-1zM1136 666h1v6h-1zM1136 861h1v5h-1zM1146 666h1v6h-1zM1146 861h1v5h-1zM1156 666h1v6h-1zM1156 861h1v5h-1zM1166 666h1v6h-1zM1166 861h1v5h-1zM1176 666h1v6h-1zM1176 861h1v5h-1zM1186 666h1v6h-1zM1186 861h1v5h-1zM1196 666h1v6h-1zM1196 861h1v5h-1zM1206 666h1v6h-1zM1206 861h1v5h-1zM1216 666h1v6h-1zM1216 861h1v5h-1zM1226 666h1v6h-1zM1226 861h1v5h-1zM1236 666h1v6h-1zM1236 861h1v5h-1zM1246 666h1v6h-1zM1246 861h1v5h-1zM1256 666h1v6h-1zM1256 861h1v5h-1zM1266 666h1v6h-1zM1266 861h1v5h-1zM1276 666h1v6h-1zM1276 861h1v5h-1zM136 856h1v21h-1zM236 856h1v21h-1zM336 856h1v21h-1zM436 856h1v21h-1zM536 856h1v21h-1zM636 856h1v21h-1zM736 856h1v21h-1zM836 856h1v21h-1zM936 856h1v21h-1zM1036 856h1v21h-1zM1136 856h1v21h-1zM1236 856h1v21h-1z"/>
<path shape-rendering="crispEdges" fill="#000" d="M105 751v34h1v-34zM106 751v29h1v-29zM107 746v30h1v-30zM108 754v23h1v-23zM109 748v29h1v-29zM110 749v31h1v-31zM111 744v39h1v-39zM112 754v22h1v-22zM113 754v24h1v-24zM114 750v30h1v-30zM115 754v27h1v-27zM116 754v23h1v-23zM117 754v23h1v-23zM118 755v32h1v-32zM119 753v24h1v-24zM120 752v26h1v-26zM121 755v22h1v-22zM122 754v22h1v-22zM123 756v22h1v-22zM124 751v26h1v-26zM125 744v40h1v-40zM126 740v38h1v-38zM127 753v42h1v-42zM128 755v20h1v-20zM129 756v23h1v-23zM130 754v24h1v-24zM131 753v31h1v-31zM132 748v40h1v-40zM133 754v24h1v-24zM134 750v35h1v-35zM135 750v28h1v-28zM136 753v30h1v-30zM137 752v40h1v-40zM138 743v50h1v-50zM139 753v25h1v-25zM140 751v26h1v-26zM141 750v27h1v-27zM142 753v25h1v-25zM143 747v42h1v-42zM144 753v34h1v-34zM145 754v29h1v-29zM146 757v21h1v-21zM147 756v21h1v-21zM148 753v31h1v-31zM149 753v24h1v-24zM150 747v28h1v-28zM151 754v27h1v-27zM152 756v26h1v-26zM153 750v30h1v-30zM154 753v30h1v-30zM155 750v27h1v-27zM156 756v27h1v-27zM157 756v18h1v-18zM158 758v19h1v-19zM159 754v26h1v-26zM160 751v28h1v-28zM161 758v19h1v-19zM162 754v19h1v-19zM163 758v16h1v-16zM164 757v22h1v-22zM165 758v21h1v-21zM166 755v18h1v-18zM167 757v21h1v-21zM168 758v18h1v-18zM169 756v20h1v-20zM170 758v19h1v-19zM171 759v15h1v-15zM172 754v22h1v-22zM173 756v22h1v-22zM174 758v21h1v-21zM175 758v15h1v-15zM176 756v18h1v-18zM177 757v20h1v-20zM178 755v23h1v-23zM179 757v17h1v-17zM180 757v19h1v-19zM181 753v25h1v-25zM182 759v21h1v-21zM183 754v24h1v-24zM184 759v13h1v-13zM185 758v19h1v-19zM186 754v23h1v-23zM187 756v17h1v-17zM188 757v24h1v-24zM189 758v25h1v-25zM190 757v17h1v-17zM191 756v21h1v-21zM192 757v20h1v-20zM193 758v17h1v-17zM194 754v21h1v-21zM195 757v15h1v-15zM196 758v18h1v-18zM197 757v18h1v-18zM198 756v19h1v-19zM199 754v20h1v-20zM200 755v20h1v-20zM201 756v19h1v-19zM202 757v17h1v-17zM203 758v15h1v-15zM204 757v20h1v-20zM205 757v18h1v-18zM206 756v18h1v-18zM207 759v18h1v-18zM208 756v20h1v-20zM209 757v19h1v-19zM210 759v16h1v-16zM211 758v18h1v-18zM212 751v22h1v-22zM213 760v14h1v-14zM214 754v21h1v-21zM215 758v18h1v-18zM216 750v28h1v-28zM217 757v17h1v-17zM218 754v23h1v-23zM219 741v62h1v-62zM220 751v26h1v-26zM221 756v24h1v-24zM222 756v21h1v-21zM223 756v22h1v-22zM224 756v18h1v-18zM225 749v25h1v-25zM226 755v22h1v-22zM227 758v16h1v-16zM228 753v22h1v-22zM229 756v18h1v-18zM230 756v19h1v-19zM231 757v18h1v-18zM232 757v15h1v-15zM233 756v18h1v-18zM234 755v19h1v-19zM235 754v22h1v-22zM236 753v23h1v-23zM237 751v24h1v-24zM238 758v18h1v-18zM239 753v22h1v-22zM240 754v23h1v-23zM241 758v17h1v-17zM242 757v17h1v-17zM243 756v19h1v-19zM244 755v19h1v-19zM245 757v18h1v-18zM246 754v23h1v-23zM247 753v23h1v-23zM248 756v20h1v-20zM249 757v19h1v-19zM250 756v18h1v-18zM251 757v19h1v-19zM252 758v17h1v-17zM253 757v20h1v-20zM254 757v20h1v-20zM255 759v16h1v-16zM256 756v19h1v-19zM257 758v18h1v-18zM258 756v19h1v-19zM259 757v18h1v-18zM260 756v21h1v-21zM261 755v21h1v-21zM262 756v19h1v-19zM263 755v21h1v-21zM264 760v15h1v-15zM265 754v19h1v-19zM266 746v38h1v-38zM267 757v28h1v-28zM268 747v37h1v-37zM269 757v16h1v-16zM270 751v24h1v-24zM271 757v23h1v-23zM272 752v25h1v-25zM273 757v22h1v-22zM274 753v26h1v-26zM275 756v23h1v-23zM276 758v17h1v-17zM277 756v20h1v-20zM278 757v16h1v-16zM279 754v19h1v-19zM280 756v19h1v-19zM281 757v17h1v-17zM282 757v21h1v-21zM283 758v21h1v-21zM284 757v18h1v-18zM285 758v16h1v-16zM286 757v18h1v-18zM287 758v17h1v-17zM288 758v16h1v-16zM289 758v18h1v-18zM290 759v17h1v-17zM291 756v20h1v-20zM292 758v18h1v-18zM293 756v23h1v-23zM294 757v20h1v-20zM295 758v19h1v-19zM296 755v21h1v-21zM297 757v23h1v-23zM298 755v20h1v-20zM299 753v24h1v-24zM300 756v18h1v-18zM301 758v19h1v-19zM302 759v16h1v-16zM303 758v17h1v-17zM304 758v18h1v-18zM305 758v20h1v-20zM306 756v23h1v-23zM307 757v19h1v-19zM308 758v19h1v-19zM309 754v23h1v-23zM310 757v21h1v-21zM311 756v20h1v-20zM312 757v19h1v-19zM313 755v24h1v-24zM314 755v23h1v-23zM315 757v20h1v-20zM316 758v19h1v-19zM317 755v23h1v-23zM318 758v17h1v-17zM319 757v19h1v-19zM320 756v19h1v-19zM321 758v17h1v-17zM322 759v16h1v-16zM323 753v27h1v-27zM324 759v21h1v-21zM325 757v18h1v-18zM326 759v15h1v-15zM327 758v17h1v-17zM328 757v19h1v-19zM329 752v23h1v-23zM330 754v24h1v-24zM331 758v21h1v-21zM332 758v17h1v-17zM333 757v21h1v-21zM334 753v25h1v-25zM335 758v19h1v-19zM336 754v23h1v-23zM337 753v25h1v-25zM338 759v19h1v-19zM339 754v22h1v-22zM340 757v18h1v-18zM341 754v26h1v-26zM342 755v23h1v-23zM343 754v29h1v-29zM344 751v30h1v-30zM345 755v24h1v-24zM346 756v26h1v-26zM347 754v27h1v-27zM348 757v22h1v-22zM349 755v24h1v-24zM350 750v33h1v-33zM351 755v22h1v-22zM352 754v26h1v-26zM353 752v26h1v-26zM354 755v26h1v-26zM355 754v25h1v-25zM356 755v24h1v-24zM357 754v19h1v-19zM358 755v20h1v-20zM359 757v22h1v-22zM360 753v21h1v-21zM361 757v22h1v-22zM362 755v22h1v-22zM363 751v30h1v-30zM364 755v23h1v-23zM365 753v26h1v-26zM366 754v26h1v-26zM367 748v31h1v-31zM368 754v25h1v-25zM369 752v26h1v-26zM370 755v25h1v-25zM371 752v26h1v-26zM372 751v28h1v-28zM373 747v34h1v-34zM374 749v33h1v-33zM375 751v27h1v-27zM376 755v28h1v-28zM377 750v31h1v-31zM378 754v27h1v-27zM379 752v26h1v-26zM380 755v23h1v-23zM381 750v31h1v-31zM382 750v33h1v-33zM383 752v30h1v-30zM384 752v27h1v-27zM385 748v36h1v-36zM386 755v21h1v-21zM387 755v22h1v-22zM388 751v29h1v-29zM389 753v24h1v-24zM390 751v27h1v-27zM391 754v24h1v-24zM392 752v29h1v-29zM393 752v26h1v-26zM394 753v25h1v-25zM395 749v30h1v-30zM396 752v31h1v-31zM397 753v27h1v-27zM398 748v31h1v-31zM399 754v24h1v-24zM400 755v25h1v-25zM401 754v24h1v-24zM402 752v28h1v-28zM403 753v29h1v-29zM404 750v30h1v-30zM405 754v25h1v-25zM406 751v29h1v-29zM407 751v39h1v-39zM408 752v27h1v-27zM409 751v33h1v-33zM410 749v41h1v-41zM411 751v37h1v-37zM412 752v29h1v-29zM413 754v29h1v-29zM414 752v30h1v-30zM415 753v27h1v-27zM416 751v34h1v-34zM417 753v30h1v-30zM418 752v31h1v-31zM419 751v30h1v-30zM420 751v30h1v-30zM421 748v35h1v-35zM422 752v29h1v-29zM423 750v33h1v-33zM424 749v34h1v-34zM425 752v31h1v-31zM426 749v30h1v-30zM427 742v43h1v-43zM428 751v31h1v-31zM429 754v31h1v-31zM430 749v39h1v-39zM431 752v30h1v-30zM432 749v37h1v-37zM433 751v29h1v-29zM434 752v36h1v-36zM435 749v34h1v-34zM436 751v32h1v-32zM437 750v31h1v-31zM438 748v35h1v-35zM439 750v29h1v-29zM440 756v25h1v-25zM441 750v32h1v-32zM442 751v31h1v-31zM443 748v33h1v-33zM444 748v38h1v-38zM445 755v33h1v-33zM446 748v32h1v-32zM447 746v41h1v-41zM448 743v43h1v-43zM449 751v34h1v-34zM450 744v38h1v-38zM451 741v44h1v-44zM452 741v43h1v-43zM453 742v43h1v-43zM454 743v37h1v-37zM455 742v44h1v-44zM456 745v50h1v-50zM457 732v49h1v-49zM458 741v45h1v-45zM459 741v59h1v-59zM460 741v47h1v-47zM461 750v38h1v-38zM462 742v39h1v-39zM463 746v45h1v-45zM464 737v63h1v-63zM465 751v41h1v-41zM466 738v63h1v-63zM467 740v48h1v-48zM468 738v54h1v-54zM469 737v56h1v-56zM470 738v58h1v-58zM471 734v58h1v-58zM472 737v52h1v-52zM473 743v54h1v-54zM474 745v51h1v-51zM475 744v48h1v-48zM476 742v61h1v-61zM477 734v56h1v-56zM478 736v62h1v-62zM479 732v65h1v-65zM480 737v63h1v-63zM481 741v60h1v-60zM482 737v58h1v-58zM483 738v63h1v-63zM484 736v62h1v-62zM485 738v59h1v-59zM486 740v50h1v-50zM487 742v54h1v-54zM488 736v52h1v-52zM489 742v61h1v-61zM490 743v45h1v-45zM491 743v57h1v-57zM492 746v46h1v-46zM493 743v51h1v-51zM494 742v52h1v-52zM495 724v72h1v-72zM496 734v54h1v-54zM497 727v63h1v-63zM498 735v56h1v-56zM499 744v61h1v-61zM500 746v72h1v-72zM501 740v53h1v-53zM502 737v62h1v-62zM503 742v46h1v-46zM504 739v65h1v-65zM505 713v82h1v-82zM506 729v62h1v-62zM507 747v48h1v-48zM508 744v51h1v-51zM509 740v49h1v-49zM510 741v55h1v-55zM511 744v56h1v-56zM512 735v56h1v-56zM513 731v72h1v-72zM514 744v56h1v-56zM515 719v77h1v-77zM516 740v60h1v-60zM517 738v65h1v-65zM518 724v84h1v-84zM519 739v59h1v-59zM520 730v67h1v-67zM521 739v65h1v-65zM522 736v62h1v-62zM523 714v88h1v-88zM524 739v56h1v-56zM525 740v64h1v-64zM526 735v66h1v-66zM527 720v112h1v-112zM528 715v85h1v-85zM529 706v125h1v-125zM530 704v97h1v-97zM531 707v97h1v-97zM532 715v96h1v-96zM533 703v110h1v-110zM534 721v129h1v-129zM535 714v103h1v-103zM536 695v116h1v-116zM537 722v111h1v-111zM538 718v88h1v-88zM539 726v88h1v-88zM540 712v97h1v-97zM541 723v87h1v-87zM542 683v150h1v-150zM543 726v88h1v-88zM544 679v185h1v-185zM545 693v135h1v-135zM546 725v100h1v-100zM547 710v115h1v-115zM548 728v78h1v-78zM549 709v124h1v-124zM550 710v110h1v-110zM551 718v111h1v-111zM552 711v100h1v-100zM553 709v114h1v-114zM554 714v115h1v-115zM555 705v105h1v-105zM556 697v126h1v-126zM557 674v155h1v-155zM558 726v97h1v-97zM559 706v119h1v-119zM560 680v133h1v-133zM561 713v121h1v-121zM562 693v145h1v-145zM563 718v96h1v-96zM564 714v116h1v-116zM565 709v117h1v-117zM566 718v94h1v-94zM567 718v99h1v-99zM568 700v139h1v-139zM569 691v134h1v-134zM570 703v129h1v-129zM571 706v119h1v-119zM572 674v166h1v-166zM573 704v121h1v-121zM574 715v104h1v-104zM575 677v133h1v-133zM576 691v137h1v-137zM577 684v143h1v-143zM578 696v109h1v-109zM579 711v114h1v-114zM580 716v118h1v-118zM581 717v103h1v-103zM582 714v99h1v-99zM583 730v87h1v-87zM584 731v95h1v-95zM585 723v98h1v-98zM586 721v98h1v-98zM587 721v103h1v-103zM588 725v75h1v-75zM589 733v95h1v-95zM590 684v150h1v-150zM591 728v99h1v-99zM592 687v133h1v-133zM593 686v139h1v-139zM594 709v116h1v-116zM595 718v81h1v-81zM596 714v114h1v-114zM597 695v148h1v-148zM598 725v104h1v-104zM599 717v111h1v-111zM600 702v126h1v-126zM601 718v123h1v-123zM602 729v89h1v-89zM603 701v102h1v-102zM604 710v119h1v-119zM605 702v118h1v-118zM606 718v109h1v-109zM607 717v89h1v-89zM608 715v108h1v-108zM609 711v96h1v-96zM610 709v106h1v-106zM611 720v132h1v-132zM612 700v136h1v-136zM613 685v159h1v-159zM614 681v164h1v-164zM615 696v144h1v-144zM616 718v109h1v-109zM617 678v152h1v-152zM618 721v120h1v-120zM619 727v97h1v-97zM620 723v103h1v-103zM621 701v116h1v-116zM622 703v121h1v-121zM623 720v98h1v-98zM624 688v142h1v-142zM625 727v103h1v-103zM626 713v120h1v-120zM627 718v111h1v-111zM628 714v129h1v-129zM629 722v111h1v-111zM630 718v109h1v-109zM631 701v127h1v-127zM632 714v131h1v-131zM633 726v76h1v-76zM634 728v97h1v-97zM635 718v94h1v-94zM636 692v127h1v-127zM637 737v63h1v-63zM638 720v83h1v-83zM639 735v58h1v-58zM640 707v89h1v-89zM641 709v100h1v-100zM642 734v58h1v-58zM643 711v91h1v-91zM644 715v87h1v-87zM645 739v82h1v-82zM646 731v76h1v-76zM647 735v86h1v-86zM648 733v65h1v-65zM649 727v68h1v-68zM650 728v82h1v-82zM651 727v90h1v-90zM652 732v64h1v-64zM653 729v72h1v-72zM654 682v126h1v-126zM655 728v68h1v-68zM656 745v62h1v-62zM657 721v94h1v-94zM658 740v81h1v-81zM659 717v89h1v-89zM660 714v80h1v-80zM661 733v72h1v-72zM662 733v66h1v-66zM663 696v119h1v-119zM664 725v104h1v-104zM665 737v60h1v-60zM666 735v63h1v-63zM667 735v63h1v-63zM668 724v82h1v-82zM669 749v59h1v-59zM670 733v56h1v-56zM671 729v53h1v-53zM672 717v89h1v-89zM673 673v142h1v-142zM674 687v116h1v-116zM675 738v74h1v-74zM676 745v59h1v-59zM677 714v72h1v-72zM678 720v84h1v-84zM679 727v80h1v-80zM680 726v83h1v-83zM681 725v79h1v-79zM682 727v79h1v-79zM683 742v48h1v-48zM684 717v90h1v-90zM685 714v96h1v-96zM686 729v86h1v-86zM687 714v93h1v-93zM688 734v93h1v-93zM689 706v100h1v-100zM690 733v69h1v-69zM691 730v69h1v-69zM692 739v52h1v-52zM693 733v52h1v-52zM694 738v61h1v-61zM695 729v77h1v-77zM696 741v55h1v-55zM697 727v74h1v-74zM698 725v109h1v-109zM699 736v66h1v-66zM700 721v78h1v-78zM701 703v105h1v-105zM702 727v94h1v-94zM703 724v88h1v-88zM704 730v68h1v-68zM705 725v69h1v-69zM706 730v91h1v-91zM707 731v75h1v-75zM708 725v84h1v-84zM709 707v92h1v-92zM710 725v117h1v-117zM711 712v111h1v-111zM712 735v68h1v-68zM713 732v67h1v-67zM714 739v103h1v-103zM715 692v139h1v-139zM716 736v69h1v-69zM717 727v82h1v-82zM718 748v63h1v-63zM719 740v80h1v-80zM720 725v90h1v-90zM721 744v53h1v-53zM722 715v96h1v-96zM723 731v85h1v-85zM724 731v85h1v-85zM725 709v96h1v-96zM726 734v91h1v-91zM727 710v103h1v-103zM728 726v72h1v-72zM729 730v97h1v-97zM730 730v82h1v-82zM731 718v126h1v-126zM732 693v139h1v-139zM733 667v147h1v-147zM734 722v136h1v-136zM735 704v99h1v-99zM736 723v65h1v-65zM737 737v66h1v-66zM738 740v51h1v-51zM739 724v79h1v-79zM740 744v55h1v-55zM741 729v78h1v-78zM742 725v74h1v-74zM743 719v81h1v-81zM744 730v55h1v-55zM745 720v77h1v-77zM746 745v63h1v-63zM747 701v154h1v-154zM748 724v80h1v-80zM749 737v55h1v-55zM750 742v51h1v-51zM751 732v62h1v-62zM752 708v96h1v-96zM753 711v85h1v-85zM754 707v89h1v-89zM755 743v38h1v-38zM756 739v92h1v-92zM757 720v102h1v-102zM758 737v54h1v-54zM759 743v55h1v-55zM760 738v68h1v-68zM761 739v67h1v-67zM762 714v91h1v-91zM763 743v44h1v-44zM764 732v77h1v-77zM765 727v67h1v-67zM766 726v70h1v-70zM767 739v51h1v-51zM768 706v88h1v-88zM769 700v142h1v-142zM770 715v77h1v-77zM771 742v42h1v-42zM772 701v109h1v-109zM773 739v48h1v-48zM774 705v134h1v-134zM775 745v55h1v-55zM776 723v78h1v-78zM777 743v62h1v-62zM778 740v66h1v-66zM779 730v54h1v-54zM780 721v75h1v-75zM781 722v86h1v-86zM782 722v81h1v-81zM783 724v71h1v-71zM784 749v51h1v-51zM785 732v65h1v-65zM786 743v56h1v-56zM787 740v81h1v-81zM788 705v90h1v-90zM789 736v71h1v-71zM790 729v77h1v-77zM791 740v54h1v-54zM792 710v95h1v-95zM793 740v53h1v-53zM794 742v49h1v-49zM795 711v76h1v-76zM796 723v76h1v-76zM797 712v84h1v-84zM798 744v54h1v-54zM799 738v62h1v-62zM800 720v98h1v-98zM801 733v71h1v-71zM802 741v60h1v-60zM803 712v107h1v-107zM804 725v84h1v-84zM805 738v68h1v-68zM806 738v64h1v-64zM807 743v64h1v-64zM808 741v71h1v-71zM809 742v67h1v-67zM810 712v86h1v-86zM811 743v77h1v-77zM812 740v70h1v-70zM813 722v79h1v-79zM814 714v97h1v-97zM815 739v79h1v-79zM816 724v70h1v-70zM817 735v62h1v-62zM818 737v72h1v-72zM819 729v79h1v-79zM820 730v67h1v-67zM821 729v74h1v-74zM822 729v77h1v-77zM823 741v57h1v-57zM824 734v54h1v-54zM825 738v58h1v-58zM826 738v61h1v-61zM827 740v50h1v-50zM828 742v80h1v-80zM829 738v68h1v-68zM830 733v75h1v-75zM831 740v51h1v-51zM832 736v63h1v-63zM833 740v51h1v-51zM834 705v100h1v-100zM835 741v71h1v-71zM836 725v71h1v-71zM837 735v96h1v-96zM838 726v91h1v-91zM839 738v78h1v-78zM840 730v60h1v-60zM841 720v79h1v-79zM842 739v58h1v-58zM843 742v72h1v-72zM844 731v94h1v-94zM845 716v75h1v-75zM846 730v69h1v-69zM847 732v89h1v-89zM848 721v76h1v-76zM849 739v68h1v-68zM850 748v73h1v-73zM851 734v59h1v-59zM852 735v77h1v-77zM853 744v53h1v-53zM854 739v57h1v-57zM855 726v73h1v-73zM856 742v54h1v-54zM857 740v53h1v-53zM858 713v113h1v-113zM859 747v52h1v-52zM860 745v51h1v-51zM861 745v41h1v-41zM862 749v71h1v-71zM863 750v39h1v-39zM864 740v59h1v-59zM865 743v57h1v-57zM866 714v85h1v-85zM867 740v45h1v-45zM868 750v45h1v-45zM869 736v51h1v-51zM870 705v101h1v-101zM871 727v77h1v-77zM872 701v110h1v-110zM873 736v64h1v-64zM874 732v63h1v-63zM875 723v77h1v-77zM876 712v80h1v-80zM877 726v85h1v-85zM878 718v82h1v-82zM879 718v80h1v-80zM880 731v64h1v-64zM881 743v65h1v-65zM882 742v51h1v-51zM883 744v54h1v-54zM884 738v63h1v-63zM885 740v54h1v-54zM886 731v82h1v-82zM887 737v65h1v-65zM888 735v56h1v-56zM889 739v73h1v-73zM890 722v94h1v-94zM891 729v60h1v-60zM892 741v61h1v-61zM893 738v56h1v-56zM894 732v80h1v-80zM895 731v92h1v-92zM896 734v63h1v-63zM897 737v66h1v-66zM898 725v84h1v-84zM899 745v60h1v-60zM900 735v78h1v-78zM901 716v88h1v-88zM902 737v61h1v-61zM903 720v78h1v-78zM904 726v80h1v-80zM905 732v76h1v-76zM906 733v52h1v-52zM907 730v70h1v-70zM908 712v96h1v-96zM909 713v101h1v-101zM910 722v98h1v-98zM911 743v61h1v-61zM912 715v81h1v-81zM913 725v93h1v-93zM914 736v67h1v-67zM915 731v65h1v-65zM916 722v79h1v-79zM917 728v71h1v-71zM918 728v94h1v-94zM919 733v72h1v-72zM920 739v67h1v-67zM921 715v82h1v-82zM922 743v89h1v-89zM923 729v81h1v-81zM924 732v82h1v-82zM925 730v85h1v-85zM926 731v78h1v-78zM927 726v69h1v-69zM928 718v97h1v-97zM929 686v180h1v-180zM930 721v106h1v-106zM931 712v113h1v-113zM932 717v101h1v-101zM933 725v95h1v-95zM934 719v98h1v-98zM935 702v128h1v-128zM936 728v79h1v-79zM937 734v69h1v-69zM938 707v101h1v-101zM939 737v63h1v-63zM940 737v66h1v-66zM941 740v64h1v-64zM942 733v58h1v-58zM943 749v46h1v-46zM944 737v83h1v-83zM945 737v58h1v-58zM946 746v53h1v-53zM947 740v51h1v-51zM948 741v54h1v-54zM949 741v59h1v-59zM950 742v56h1v-56zM951 742v53h1v-53zM952 740v58h1v-58zM953 747v38h1v-38zM954 747v40h1v-40zM955 741v66h1v-66zM956 736v50h1v-50zM957 716v92h1v-92zM958 742v67h1v-67zM959 713v121h1v-121zM960 733v78h1v-78zM961 737v72h1v-72zM962 681v118h1v-118zM963 708v102h1v-102zM964 731v70h1v-70zM965 715v104h1v-104zM966 726v75h1v-75zM967 740v60h1v-60zM968 712v91h1v-91zM969 722v78h1v-78zM970 727v72h1v-72zM971 733v72h1v-72zM972 746v36h1v-36zM973 740v60h1v-60zM974 745v50h1v-50zM975 712v80h1v-80zM976 747v52h1v-52zM977 735v57h1v-57zM978 731v75h1v-75zM979 728v73h1v-73zM980 721v71h1v-71zM981 729v84h1v-84zM982 724v83h1v-83zM983 741v63h1v-63zM984 723v85h1v-85zM985 722v88h1v-88zM986 738v62h1v-62zM987 727v75h1v-75zM988 734v62h1v-62zM989 722v85h1v-85zM990 729v104h1v-104zM991 684v112h1v-112zM992 730v70h1v-70zM993 727v62h1v-62zM994 728v72h1v-72zM995 743v46h1v-46zM996 724v79h1v-79zM997 703v106h1v-106zM998 720v96h1v-96zM999 736v91h1v-91zM1000 723v75h1v-75zM1001 729v91h1v-91zM1002 712v96h1v-96zM1003 726v76h1v-76zM1004 718v85h1v-85zM1005 731v75h1v-75zM1006 724v81h1v-81zM1007 737v83h1v-83zM1008 723v93h1v-93zM1009 734v60h1v-60zM1010 735v77h1v-77zM1011 725v94h1v-94zM1012 725v70h1v-70zM1013 719v90h1v-90zM1014 717v110h1v-110zM1015 742v65h1v-65zM1016 737v83h1v-83zM1017 741v75h1v-75zM1018 706v105h1v-105zM1019 733v64h1v-64zM1020 734v67h1v-67zM1021 723v87h1v-87zM1022 731v67h1v-67zM1023 723v87h1v-87zM1024 735v58h1v-58zM1025 738v66h1v-66zM1026 727v72h1v-72zM1027 724v70h1v-70zM1028 715v86h1v-86zM1029 732v63h1v-63zM1030 706v85h1v-85zM1031 725v88h1v-88zM1032 738v67h1v-67zM1033 707v101h1v-101zM1034 717v80h1v-80zM1035 720v89h1v-89zM1036 723v103h1v-103zM1037 719v81h1v-81zM1038 737v58h1v-58zM1039 715v100h1v-100zM1040 724v105h1v-105zM1041 725v89h1v-89zM1042 727v86h1v-86zM1043 722v80h1v-80zM1044 717v83h1v-83zM1045 740v76h1v-76zM1046 705v109h1v-109zM1047 713v111h1v-111zM1048 736v99h1v-99zM1049 685v113h1v-113zM1050 720v137h1v-137zM1051 686v107h1v-107zM1052 703v139h1v-139zM1053 714v104h1v-104zM1054 706v130h1v-130zM1055 726v85h1v-85zM1056 732v134h1v-134zM1057 692v103h1v-103zM1058 741v69h1v-69zM1059 722v113h1v-113zM1060 727v77h1v-77zM1061 728v78h1v-78zM1062 739v60h1v-60zM1063 703v138h1v-138zM1064 730v60h1v-60zM1065 737v52h1v-52zM1066 727v102h1v-102zM1067 721v96h1v-96zM1068 747v50h1v-50zM1069 730v62h1v-62zM1070 730v49h1v-49zM1071 744v83h1v-83zM1072 740v44h1v-44zM1073 747v47h1v-47zM1074 739v64h1v-64zM1075 742v54h1v-54zM1076 707v92h1v-92zM1077 741v77h1v-77zM1078 748v43h1v-43zM1079 746v55h1v-55zM1080 729v83h1v-83zM1081 732v61h1v-61zM1082 731v78h1v-78zM1083 740v68h1v-68zM1084 737v55h1v-55zM1085 696v112h1v-112zM1086 696v144h1v-144zM1087 731v94h1v-94zM1088 734v88h1v-88zM1089 715v119h1v-119zM1090 706v87h1v-87zM1091 703v104h1v-104zM1092 729v70h1v-70zM1093 733v68h1v-68zM1094 730v56h1v-56zM1095 725v65h1v-65zM1096 717v88h1v-88zM1097 715v88h1v-88zM1098 707v98h1v-98zM1099 726v95h1v-95zM1100 733v69h1v-69zM1101 717v89h1v-89zM1102 744v60h1v-60zM1103 723v80h1v-80zM1104 712v90h1v-90zM1105 726v79h1v-79zM1106 739v54h1v-54zM1107 731v64h1v-64zM1108 735v65h1v-65zM1109 745v54h1v-54zM1110 742v56h1v-56zM1111 740v57h1v-57zM1112 737v54h1v-54zM1113 734v63h1v-63zM1114 743v62h1v-62zM1115 748v51h1v-51zM1116 740v46h1v-46zM1117 715v95h1v-95zM1118 738v71h1v-71zM1119 693v102h1v-102zM1120 734v59h1v-59zM1121 742v83h1v-83zM1122 726v96h1v-96zM1123 693v124h1v-124zM1124 744v51h1v-51zM1125 735v56h1v-56zM1126 733v60h1v-60zM1127 746v37h1v-37zM1128 738v60h1v-60zM1129 731v67h1v-67zM1130 739v58h1v-58zM1131 725v73h1v-73zM1132 732v66h1v-66zM1133 736v64h1v-64zM1134 735v55h1v-55zM1135 729v68h1v-68zM1136 736v75h1v-75zM1137 721v68h1v-68zM1138 706v125h1v-125zM1139 722v87h1v-87zM1140 726v66h1v-66zM1141 732v87h1v-87zM1142 719v95h1v-95zM1143 739v82h1v-82zM1144 721v69h1v-69zM1145 722v92h1v-92zM1146 720v107h1v-107zM1147 721v97h1v-97zM1148 733v73h1v-73zM1149 722v93h1v-93zM1150 695v136h1v-136zM1151 718v117h1v-117zM1152 732v64h1v-64zM1153 713v91h1v-91zM1154 739v62h1v-62zM1155 724v82h1v-82zM1156 705v123h1v-123zM1157 729v69h1v-69zM1158 735v55h1v-55zM1159 747v48h1v-48zM1160 727v81h1v-81zM1161 728v80h1v-80zM1162 733v60h1v-60zM1163 732v57h1v-57zM1164 735v87h1v-87zM1165 738v80h1v-80zM1166 727v75h1v-75zM1167 738v55h1v-55zM1168 729v72h1v-72zM1169 727v81h1v-81zM1170 714v94h1v-94zM1171 732v48h1v-48zM1172 734v74h1v-74zM1173 738v64h1v-64zM1174 723v95h1v-95zM1175 741v58h1v-58zM1176 722v88h1v-88zM1177 730v68h1v-68zM1178 731v83h1v-83zM1179 729v79h1v-79zM1180 724v72h1v-72zM1181 735v98h1v-98zM1182 701v93h1v-93zM1183 741v61h1v-61zM1184 738v47h1v-47zM1185 723v91h1v-91zM1186 743v67h1v-67zM1187 729v70h1v-70zM1188 722v93h1v-93zM1189 734v60h1v-60zM1190 745v45h1v-45zM1191 730v67h1v-67zM1192 743v48h1v-48zM1193 733v73h1v-73zM1194 733v69h1v-69zM1195 727v80h1v-80zM1196 732v77h1v-77zM1197 735v61h1v-61zM1198 736v77h1v-77zM1199 712v94h1v-94zM1200 735v60h1v-60zM1201 718v78h1v-78zM1202 750v51h1v-51zM1203 710v83h1v-83zM1204 737v51h1v-51zM1205 726v69h1v-69zM1206 732v69h1v-69zM1207 722v80h1v-80zM1208 731v71h1v-71zM1209 747v45h1v-45zM1210 730v52h1v-52zM1211 712v88h1v-88zM1212 720v95h1v-95zM1213 742v59h1v-59zM1214 737v49h1v-49zM1215 738v57h1v-57zM1216 731v76h1v-76zM1217 742v52h1v-52zM1218 737v60h1v-60zM1219 736v45h1v-45zM1220 740v52h1v-52zM1221 738v52h1v-52zM1222 728v75h1v-75zM1223 746v52h1v-52zM1224 733v67h1v-67zM1225 739v60h1v-60zM1226 714v98h1v-98zM1227 718v72h1v-72zM1228 718v101h1v-101zM1229 745v68h1v-68zM1230 721v85h1v-85zM1231 739v63h1v-63zM1232 725v74h1v-74zM1233 724v80h1v-80zM1234 746v55h1v-55zM1235 729v75h1v-75zM1236 710v104h1v-104zM1237 737v73h1v-73zM1238 732v78h1v-78zM1239 721v78h1v-78zM1240 735v73h1v-73zM1241 737v59h1v-59zM1242 748v39h1v-39zM1243 738v60h1v-60zM1244 727v81h1v-81zM1245 716v86h1v-86zM1246 747v38h1v-38zM1247 738v55h1v-55zM1248 741v53h1v-53zM1249 742v55h1v-55zM1250 731v63h1v-63zM1251 747v56h1v-56zM1252 739v72h1v-72zM1253 755v35h1v-35zM1254 727v64h1v-64zM1255 741v58h1v-58zM1256 749v70h1v-70zM1257 705v100h1v-100zM1258 750v75h1v-75zM1259 741v64h1v-64zM1260 723v70h1v-70zM1261 747v43h1v-43zM1262 737v47h1v-47zM1263 705v90h1v-90zM1264 726v70h1v-70zM1265 747v39h1v-39zM1266 732v79h1v-79zM1267 743v58h1v-58zM1268 729v60h1v-60zM1269 740v80h1v-80zM1270 738v89h1v-89zM1271 737v63h1v-63zM1272 747v38h1v-38zM1273 747v66h1v-66zM1274 745v60h1v-60zM1275 736v45h1v-45zM1276 740v67h1v-67zM1277 727v59h1v-59zM1278 729v59h1v-59zM1279 749v48h1v-48zM1280 740v62h1v-62zM1281 749v48h1v-48zM1282 741v54h1v-54zM1283 713v84h1v-84zM1284 740v41h1v-41zM1285 746v51h1v-51z"/>
<text class="s" transform="scale(0.8 1)" x="237.50 246.25 255.00 263.75 272.50 281.25 290.00 298.75 307.50 316.25 325.00 333.75 342.50 351.25 360.00 368.75 377.50 386.25 395.00 403.75 412.50 421.25 430.00 438.75 447.50 456.25 465.00" y="662" xml:space="preserve">OK003_GS_HNZ_01  Jun 4,2020</text>
<text class="s" transform="scale(0.92 1)" x="33.15 40.76 48.37 55.98 63.59" y="672" xml:space="preserve">0.956</text>
<text class="s" transform="scale(0.86 1)" x="11.05 19.19 27.33 35.47 43.60 51.74 59.88 68.02 76.16 84.30" y="752" xml:space="preserve">cm/sec/sec</text>
<text class="s" transform="scale(0.92 1)" x="63.04" y="772" xml:space="preserve">0</text>
<text class="s" transform="scale(0.92 1)" x="25.00 32.61 40.22 47.83 55.43 63.04" y="872" xml:space="preserve">-0.956</text>
<text class="s" transform="scale(0.92 1)" x="124.46 132.07 139.67 147.28 154.89 162.50 170.11 177.72" y="892" xml:space="preserve">16:50:10</text>
<text class="s" transform="scale(0.92 1)" x="233.15 240.76 248.37 255.98 263.59 271.20 278.80 286.41" y="892" xml:space="preserve">16:50:20</text>
<text class="s" transform="scale(0.92 1)" x="341.85 349.46 357.07 364.67 372.28 379.89 387.50 395.11" y="892" xml:space="preserve">16:50:30</text>
<text class="s" transform="scale(0.92 1)" x="450.54 458.15 465.76 473.37 480.98 488.59 496.20 503.80" y="892" xml:space="preserve">16:50:40</text>
<text class="s" transform="scale(0.92 1)" x="559.24 566.85 574.46 582.07 589.67 597.28 604.89 612.50" y="892" xml:space="preserve">16:50:50</text>
<text class="s" transform="scale(0.92 1)" x="667.93 675.54 683.15 690.76 698.37 705.98 713.59 721.20" y="892" xml:space="preserve">16:51:00</text>
<text class="s" transform="scale(0.92 1)" x="776.63 784.24 791.85 799.46 807.07 814.67 822.28 829.89" y="892" xml:space="preserve">16:51:10</text>
<text class="s" transform="scale(0.92 1)" x="885.33 892.93 900.54 908.15 915.76 923.37 930.98 938.59" y="892" xml:space="preserve">16:51:20</text>
<text class="s" transform="scale(0.92 1)" x="994.02 1001.63 1009.24 1016.85 1024.46 1032.07 1039.67 1047.28" y="892" xml:space="preserve">16:51:30</text>
<text class="s" transform="scale(0.92 1)" x="1102.72 1110.33 1117.93 1125.54 1133.15 1140.76 1148.37 1155.98" y="892" xml:space="preserve">16:51:40</text>
<text class="s" transform="scale(0.92 1)" x="1211.41 1219.02 1226.63 1234.24 1241.85 1249.46 1257.07 1264.67" y="892" xml:space="preserve">16:51:50</text>
<text class="s" transform="scale(0.92 1)" x="1320.11 1327.72 1335.33 1342.93 1350.54 1358.15 1365.76 1373.37" y="892" xml:space="preserve">16:52:00</text>
</g>
</svg>
</body></html>
